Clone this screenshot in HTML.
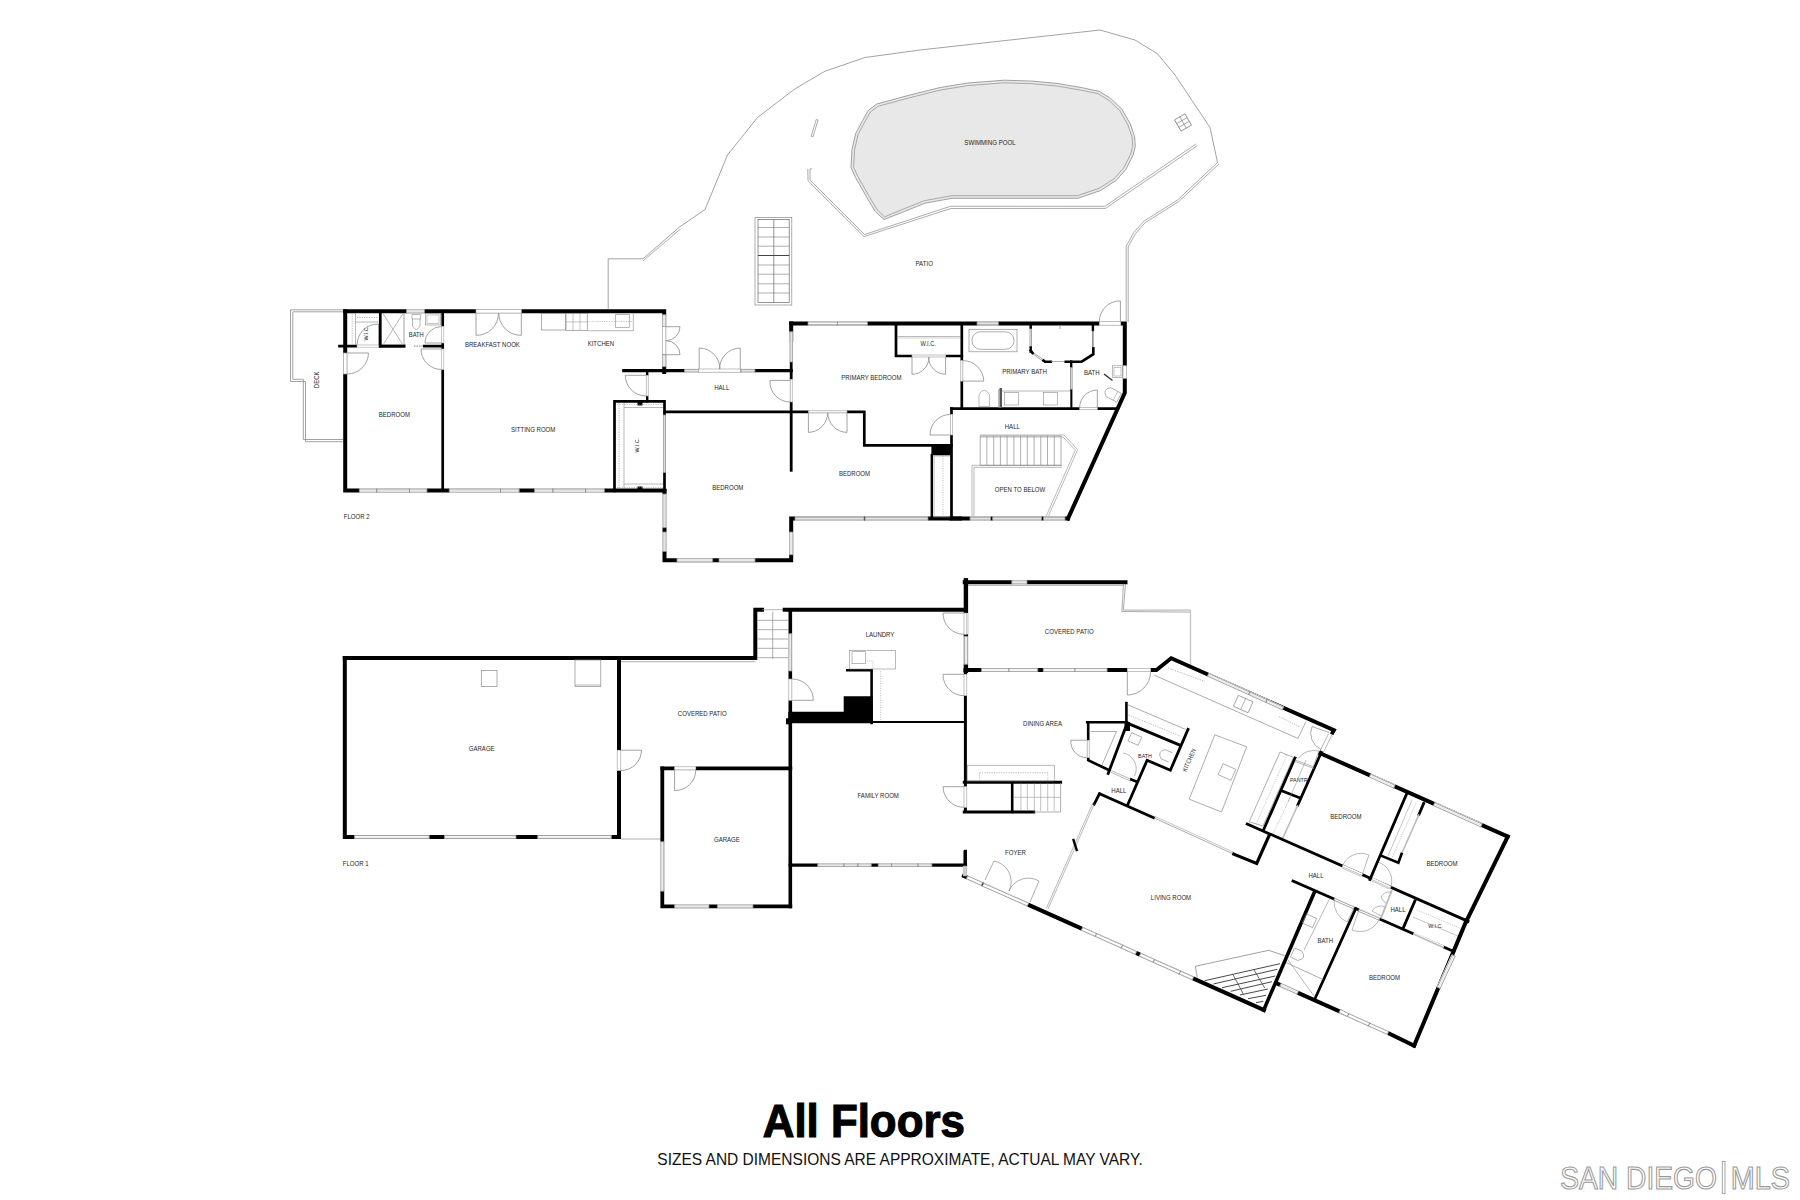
<!DOCTYPE html>
<html><head><meta charset="utf-8"><style>
html,body{margin:0;padding:0;background:#fff;width:1800px;height:1200px;overflow:hidden}
svg{display:block;font-family:"Liberation Sans",sans-serif}
</style></head><body>
<svg width="1800" height="1200" viewBox="0 0 1800 1200">
<rect width="1800" height="1200" fill="#fff"/>
<polyline points="343,309.8 290.5,309.8 290.5,381.5 305.5,381.5 305.5,441.7 343,441.7" fill="none" stroke="#8a8a8a" stroke-width="0.8"/>
<polyline points="343,311.8 292.8,311.8 292.8,379.3 303.3,379.3 303.3,439.5 343,439.5" fill="none" stroke="#8a8a8a" stroke-width="0.8"/>
<text x="0" y="0" transform="translate(316.2 379.8) rotate(-90) scale(0.89 1)" font-size="6.8" text-anchor="middle" dominant-baseline="central" fill="#262626" font-weight="normal">DECK</text>
<polyline points="345.2,311.3 664.2,311.3 664.2,372" fill="none" stroke="#000" stroke-width="4" stroke-linecap="square" stroke-linejoin="miter"/>
<polyline points="345.2,311.3 345.2,490.6 664.4,490.6" fill="none" stroke="#000" stroke-width="4" stroke-linecap="square" stroke-linejoin="miter"/>
<polyline points="442.7,311.3 442.7,490.6" fill="none" stroke="#000" stroke-width="2.7" stroke-linecap="square" stroke-linejoin="miter"/>
<polyline points="339.5,346.1 442.7,346.1" fill="none" stroke="#000" stroke-width="2.7" stroke-linecap="square" stroke-linejoin="miter"/>
<polyline points="380.3,311.3 380.3,346.1" fill="none" stroke="#000" stroke-width="2.7" stroke-linecap="square" stroke-linejoin="miter"/>
<polyline points="404,313 404,345" fill="none" stroke="#8a8a8a" stroke-width="0.8"/>
<polyline points="380.3,346.1 404.8,346.1" fill="none" stroke="#000" stroke-width="2.7" stroke-linecap="square" stroke-linejoin="miter"/>
<line x1="406.5" y1="311.3" x2="424.5" y2="311.3" stroke="#fff" stroke-width="4.8"/>
<line x1="406.5" y1="312.9" x2="424.5" y2="312.9" stroke="#8c8c8c" stroke-width="0.8"/>
<line x1="406.5" y1="309.8" x2="424.5" y2="309.8" stroke="#8c8c8c" stroke-width="0.8"/>
<line x1="406.5" y1="311.3" x2="424.5" y2="311.3" stroke="#c4c4c4" stroke-width="0.5"/>
<line x1="406.5" y1="313.3" x2="406.5" y2="309.3" stroke="#888" stroke-width="0.8"/>
<line x1="424.5" y1="313.3" x2="424.5" y2="309.3" stroke="#888" stroke-width="0.8"/>
<line x1="476" y1="311.3" x2="521.3" y2="311.3" stroke="#fff" stroke-width="5"/>
<rect x="476" y="309.5" width="45.3" height="3.6" fill="#fff" stroke="#999" stroke-width="0.7"/>
<line x1="345.2" y1="353" x2="345.2" y2="374" stroke="#fff" stroke-width="5"/>
<rect x="343.4" y="353" width="3.6" height="21" fill="#fff" stroke="#999" stroke-width="0.7"/>
<path d="M347.2,353 L368.5,353 A21.3,21.3 0 0 1 347.2,374" fill="none" stroke="#8a8a8a" stroke-width="0.8"/>
<line x1="357" y1="346.1" x2="378.5" y2="346.1" stroke="#fff" stroke-width="4"/>
<rect x="357" y="345" width="21.5" height="2.2" fill="#fff" stroke="#aaa" stroke-width="0.6"/>
<path d="M378.5,345 L378.5,324 A21,21 0 0 0 357,345" fill="none" stroke="#8a8a8a" stroke-width="0.8"/>
<polyline points="352.2,313.5 352.2,345" fill="none" stroke="#8a8a8a" stroke-width="0.6" stroke-dasharray="1.2,1.2"/>
<polyline points="355.5,313.5 355.5,345" fill="none" stroke="#8a8a8a" stroke-width="0.6"/>
<polyline points="355.5,322 378.5,322" fill="none" stroke="#8a8a8a" stroke-width="0.6"/>
<polyline points="357,317.5 378.5,317.5" fill="none" stroke="#8a8a8a" stroke-width="0.6" stroke-dasharray="1.2,1.2"/>
<text x="0" y="0" transform="translate(366.3 333.2) rotate(-90) scale(0.89 1)" font-size="6.0" text-anchor="middle" dominant-baseline="central" fill="#262626" font-weight="normal">W.I.C.</text>
<polyline points="383,313.5 403,345" fill="none" stroke="#8a8a8a" stroke-width="0.6"/>
<polyline points="403,313.5 383,345" fill="none" stroke="#8a8a8a" stroke-width="0.6"/>
<line x1="405.5" y1="346.1" x2="423" y2="346.1" stroke="#fff" stroke-width="4"/>
<polyline points="414,346.1 423,346.1" fill="none" stroke="#999" stroke-width="1.2" stroke-dasharray="1.5,1"/>
<line x1="442.7" y1="326.5" x2="442.7" y2="343" stroke="#fff" stroke-width="4"/>
<rect x="441.6" y="326.5" width="2.2" height="16.5" fill="#fff" stroke="#aaa" stroke-width="0.6"/>
<path d="M441.6,343 L425,343 A16.6,16.6 0 0 1 441.6,326.5" fill="none" stroke="#8a8a8a" stroke-width="0.8"/>
<line x1="442.7" y1="349" x2="442.7" y2="369.5" stroke="#fff" stroke-width="4"/>
<rect x="441.6" y="349" width="2.2" height="20.5" fill="#fff" stroke="#aaa" stroke-width="0.6"/>
<path d="M441.5,349 L421,349 A20.5,20.5 0 0 0 441.5,369.5" fill="none" stroke="#8a8a8a" stroke-width="0.8"/>
<polygon points="412,314.5 420.5,314.5 420.5,319 412,319" fill="none" stroke="#8a8a8a" stroke-width="0.6"/>
<path d="M412.5,319 L412.5,326 Q416.3,333 420,326 L420,319" fill="none" stroke="#8a8a8a" stroke-width="0.6"/>
<rect x="425.5" y="313.5" width="15" height="11.5" fill="none" stroke="#8a8a8a" stroke-width="0.6"/>
<rect x="427" y="315" width="12" height="8.5" fill="none" stroke="#8a8a8a" stroke-width="0.5"/>
<text x="0" y="0" transform="translate(416.3 334.3) scale(0.89 1)" font-size="6.5" text-anchor="middle" dominant-baseline="central" fill="#262626" font-weight="normal">BATH</text>
<text x="0" y="0" transform="translate(394.4 414.4) scale(0.89 1)" font-size="6.8" text-anchor="middle" dominant-baseline="central" fill="#262626" font-weight="normal">BEDROOM</text>
<path d="M476,313.3 L476,335.3 A22,22 0 0 0 498.5,313.3" fill="none" stroke="#8a8a8a" stroke-width="0.8"/>
<path d="M521.3,313.3 L521.3,335.3 A22,22 0 0 1 498.8,313.3" fill="none" stroke="#8a8a8a" stroke-width="0.8"/>
<text x="0" y="0" transform="translate(492.4 344.1) scale(0.89 1)" font-size="6.8" text-anchor="middle" dominant-baseline="central" fill="#262626" font-weight="normal">BREAKFAST NOOK</text>
<rect x="541.3" y="313.3" width="24" height="16.7" fill="none" stroke="#8a8a8a" stroke-width="0.7"/>
<rect x="566" y="313.3" width="21.3" height="17.2" fill="none" stroke="#8a8a8a" stroke-width="0.7"/>
<polyline points="573,313.3 573,330.5" fill="none" stroke="#8a8a8a" stroke-width="0.5"/>
<polyline points="580,313.3 580,330.5" fill="none" stroke="#8a8a8a" stroke-width="0.5"/>
<polyline points="566,321.9 587.3,321.9" fill="none" stroke="#8a8a8a" stroke-width="0.5"/>
<polyline points="587.3,330.7 633.3,330.7 633.3,313.3" fill="none" stroke="#8a8a8a" stroke-width="0.6"/>
<polyline points="587.3,321.5 633,321.5" fill="none" stroke="#8a8a8a" stroke-width="0.5" stroke-dasharray="1.2,1.2"/>
<rect x="615.3" y="314.7" width="14" height="12.6" fill="none" stroke="#8a8a8a" stroke-width="0.6"/>
<text x="0" y="0" transform="translate(600.9 343.7) scale(0.89 1)" font-size="6.8" text-anchor="middle" dominant-baseline="central" fill="#262626" font-weight="normal">KITCHEN</text>
<line x1="664.2" y1="314.7" x2="664.2" y2="326.7" stroke="#fff" stroke-width="4.8"/>
<line x1="662.7" y1="314.7" x2="662.7" y2="326.7" stroke="#8c8c8c" stroke-width="0.8"/>
<line x1="665.8" y1="314.7" x2="665.8" y2="326.7" stroke="#8c8c8c" stroke-width="0.8"/>
<line x1="664.2" y1="314.7" x2="664.2" y2="326.7" stroke="#c4c4c4" stroke-width="0.5"/>
<line x1="662.2" y1="314.7" x2="666.2" y2="314.7" stroke="#888" stroke-width="0.8"/>
<line x1="662.2" y1="326.7" x2="666.2" y2="326.7" stroke="#888" stroke-width="0.8"/>
<line x1="664.2" y1="326.7" x2="664.2" y2="354.7" stroke="#fff" stroke-width="5"/>
<rect x="662.6" y="326.7" width="3.2" height="28" fill="#fff" stroke="#999" stroke-width="0.6"/>
<line x1="664.2" y1="354.7" x2="664.2" y2="366.7" stroke="#fff" stroke-width="4.8"/>
<line x1="662.7" y1="354.7" x2="662.7" y2="366.7" stroke="#8c8c8c" stroke-width="0.8"/>
<line x1="665.8" y1="354.7" x2="665.8" y2="366.7" stroke="#8c8c8c" stroke-width="0.8"/>
<line x1="664.2" y1="354.7" x2="664.2" y2="366.7" stroke="#c4c4c4" stroke-width="0.5"/>
<line x1="662.2" y1="354.7" x2="666.2" y2="354.7" stroke="#888" stroke-width="0.8"/>
<line x1="662.2" y1="366.7" x2="666.2" y2="366.7" stroke="#888" stroke-width="0.8"/>
<path d="M666,326.7 L680,326.7 A14,14 0 0 1 666,340.7" fill="none" stroke="#8a8a8a" stroke-width="0.8"/>
<path d="M666,354.7 L680,354.7 A14,14 0 0 0 666,340.7" fill="none" stroke="#8a8a8a" stroke-width="0.8"/>
<text x="0" y="0" transform="translate(533.2 429.6) scale(0.89 1)" font-size="6.8" text-anchor="middle" dominant-baseline="central" fill="#262626" font-weight="normal">SITTING ROOM</text>
<line x1="359.3" y1="490.6" x2="376.8" y2="490.6" stroke="#fff" stroke-width="4.8"/>
<line x1="359.3" y1="492.2" x2="376.8" y2="492.2" stroke="#8c8c8c" stroke-width="0.8"/>
<line x1="359.3" y1="489.1" x2="376.8" y2="489.1" stroke="#8c8c8c" stroke-width="0.8"/>
<line x1="359.3" y1="490.6" x2="376.8" y2="490.6" stroke="#c4c4c4" stroke-width="0.5"/>
<line x1="359.3" y1="492.6" x2="359.3" y2="488.6" stroke="#888" stroke-width="0.8"/>
<line x1="376.8" y1="492.6" x2="376.8" y2="488.6" stroke="#888" stroke-width="0.8"/>
<line x1="376.8" y1="490.6" x2="409.5" y2="490.6" stroke="#fff" stroke-width="4.8"/>
<line x1="376.8" y1="492.2" x2="409.5" y2="492.2" stroke="#8c8c8c" stroke-width="0.8"/>
<line x1="376.8" y1="489.1" x2="409.5" y2="489.1" stroke="#8c8c8c" stroke-width="0.8"/>
<line x1="376.8" y1="490.6" x2="409.5" y2="490.6" stroke="#c4c4c4" stroke-width="0.5"/>
<line x1="376.8" y1="492.6" x2="376.8" y2="488.6" stroke="#888" stroke-width="0.8"/>
<line x1="409.5" y1="492.6" x2="409.5" y2="488.6" stroke="#888" stroke-width="0.8"/>
<line x1="409.5" y1="490.6" x2="427" y2="490.6" stroke="#fff" stroke-width="4.8"/>
<line x1="409.5" y1="492.2" x2="427" y2="492.2" stroke="#8c8c8c" stroke-width="0.8"/>
<line x1="409.5" y1="489.1" x2="427" y2="489.1" stroke="#8c8c8c" stroke-width="0.8"/>
<line x1="409.5" y1="490.6" x2="427" y2="490.6" stroke="#c4c4c4" stroke-width="0.5"/>
<line x1="409.5" y1="492.6" x2="409.5" y2="488.6" stroke="#888" stroke-width="0.8"/>
<line x1="427" y1="492.6" x2="427" y2="488.6" stroke="#888" stroke-width="0.8"/>
<line x1="449.2" y1="490.6" x2="500.5" y2="490.6" stroke="#fff" stroke-width="4.8"/>
<line x1="449.2" y1="492.2" x2="500.5" y2="492.2" stroke="#8c8c8c" stroke-width="0.8"/>
<line x1="449.2" y1="489.1" x2="500.5" y2="489.1" stroke="#8c8c8c" stroke-width="0.8"/>
<line x1="449.2" y1="490.6" x2="500.5" y2="490.6" stroke="#c4c4c4" stroke-width="0.5"/>
<line x1="449.2" y1="492.6" x2="449.2" y2="488.6" stroke="#888" stroke-width="0.8"/>
<line x1="500.5" y1="492.6" x2="500.5" y2="488.6" stroke="#888" stroke-width="0.8"/>
<line x1="500.5" y1="490.6" x2="519.2" y2="490.6" stroke="#fff" stroke-width="4.8"/>
<line x1="500.5" y1="492.2" x2="519.2" y2="492.2" stroke="#8c8c8c" stroke-width="0.8"/>
<line x1="500.5" y1="489.1" x2="519.2" y2="489.1" stroke="#8c8c8c" stroke-width="0.8"/>
<line x1="500.5" y1="490.6" x2="519.2" y2="490.6" stroke="#c4c4c4" stroke-width="0.5"/>
<line x1="500.5" y1="492.6" x2="500.5" y2="488.6" stroke="#888" stroke-width="0.8"/>
<line x1="519.2" y1="492.6" x2="519.2" y2="488.6" stroke="#888" stroke-width="0.8"/>
<line x1="534.4" y1="490.6" x2="553" y2="490.6" stroke="#fff" stroke-width="4.8"/>
<line x1="534.4" y1="492.2" x2="553" y2="492.2" stroke="#8c8c8c" stroke-width="0.8"/>
<line x1="534.4" y1="489.1" x2="553" y2="489.1" stroke="#8c8c8c" stroke-width="0.8"/>
<line x1="534.4" y1="490.6" x2="553" y2="490.6" stroke="#c4c4c4" stroke-width="0.5"/>
<line x1="534.4" y1="492.6" x2="534.4" y2="488.6" stroke="#888" stroke-width="0.8"/>
<line x1="553" y1="492.6" x2="553" y2="488.6" stroke="#888" stroke-width="0.8"/>
<line x1="553" y1="490.6" x2="585.7" y2="490.6" stroke="#fff" stroke-width="4.8"/>
<line x1="553" y1="492.2" x2="585.7" y2="492.2" stroke="#8c8c8c" stroke-width="0.8"/>
<line x1="553" y1="489.1" x2="585.7" y2="489.1" stroke="#8c8c8c" stroke-width="0.8"/>
<line x1="553" y1="490.6" x2="585.7" y2="490.6" stroke="#c4c4c4" stroke-width="0.5"/>
<line x1="553" y1="492.6" x2="553" y2="488.6" stroke="#888" stroke-width="0.8"/>
<line x1="585.7" y1="492.6" x2="585.7" y2="488.6" stroke="#888" stroke-width="0.8"/>
<line x1="585.7" y1="490.6" x2="604.4" y2="490.6" stroke="#fff" stroke-width="4.8"/>
<line x1="585.7" y1="492.2" x2="604.4" y2="492.2" stroke="#8c8c8c" stroke-width="0.8"/>
<line x1="585.7" y1="489.1" x2="604.4" y2="489.1" stroke="#8c8c8c" stroke-width="0.8"/>
<line x1="585.7" y1="490.6" x2="604.4" y2="490.6" stroke="#c4c4c4" stroke-width="0.5"/>
<line x1="585.7" y1="492.6" x2="585.7" y2="488.6" stroke="#888" stroke-width="0.8"/>
<line x1="604.4" y1="492.6" x2="604.4" y2="488.6" stroke="#888" stroke-width="0.8"/>
<polyline points="623.8,370.6 791.2,370.6" fill="none" stroke="#000" stroke-width="3.2" stroke-linecap="square" stroke-linejoin="miter"/>
<line x1="684.5" y1="370.6" x2="698.6" y2="370.6" stroke="#fff" stroke-width="4.2"/>
<line x1="684.5" y1="371.9" x2="698.6" y2="371.9" stroke="#8c8c8c" stroke-width="0.8"/>
<line x1="684.5" y1="369.4" x2="698.6" y2="369.4" stroke="#8c8c8c" stroke-width="0.8"/>
<line x1="684.5" y1="370.6" x2="698.6" y2="370.6" stroke="#c4c4c4" stroke-width="0.5"/>
<line x1="684.5" y1="372.3" x2="684.5" y2="368.9" stroke="#888" stroke-width="0.8"/>
<line x1="698.6" y1="372.3" x2="698.6" y2="368.9" stroke="#888" stroke-width="0.8"/>
<line x1="698.6" y1="370.6" x2="740.8" y2="370.6" stroke="#fff" stroke-width="4.5"/>
<rect x="698.6" y="369" width="42.2" height="3.2" fill="#fff" stroke="#999" stroke-width="0.6"/>
<line x1="740.8" y1="370.6" x2="754.9" y2="370.6" stroke="#fff" stroke-width="4.2"/>
<line x1="740.8" y1="371.9" x2="754.9" y2="371.9" stroke="#8c8c8c" stroke-width="0.8"/>
<line x1="740.8" y1="369.4" x2="754.9" y2="369.4" stroke="#8c8c8c" stroke-width="0.8"/>
<line x1="740.8" y1="370.6" x2="754.9" y2="370.6" stroke="#c4c4c4" stroke-width="0.5"/>
<line x1="740.8" y1="372.3" x2="740.8" y2="368.9" stroke="#888" stroke-width="0.8"/>
<line x1="754.9" y1="372.3" x2="754.9" y2="368.9" stroke="#888" stroke-width="0.8"/>
<path d="M699.2,369 L699.2,348 A21,21 0 0 1 720,369" fill="none" stroke="#8a8a8a" stroke-width="0.8"/>
<path d="M740.3,369 L740.3,348 A21,21 0 0 0 719.5,369" fill="none" stroke="#8a8a8a" stroke-width="0.8"/>
<polyline points="647.2,370.6 647.2,401.3" fill="none" stroke="#000" stroke-width="2.4" stroke-linecap="square" stroke-linejoin="miter"/>
<line x1="647.2" y1="375.3" x2="647.2" y2="396" stroke="#fff" stroke-width="4"/>
<rect x="646.2" y="375.3" width="2" height="20.7" fill="#fff" stroke="#999" stroke-width="0.6"/>
<path d="M646,375.3 L625.3,375.3 A20.7,20.7 0 0 0 646,396" fill="none" stroke="#8a8a8a" stroke-width="0.8"/>
<text x="0" y="0" transform="translate(721.7 387.3) scale(0.89 1)" font-size="6.8" text-anchor="middle" dominant-baseline="central" fill="#262626" font-weight="normal">HALL</text>
<polyline points="614.5,491 614.5,401.3 664.5,401.3 664.5,491" fill="none" stroke="#000" stroke-width="2.7" stroke-linecap="square" stroke-linejoin="miter"/>
<line x1="664.5" y1="415" x2="664.5" y2="472.5" stroke="#fff" stroke-width="3.5"/>
<line x1="663.6" y1="415" x2="663.6" y2="472.5" stroke="#8c8c8c" stroke-width="0.8"/>
<line x1="665.4" y1="415" x2="665.4" y2="472.5" stroke="#8c8c8c" stroke-width="0.8"/>
<line x1="664.5" y1="415" x2="664.5" y2="472.5" stroke="#c4c4c4" stroke-width="0.5"/>
<line x1="663.1" y1="415" x2="665.9" y2="415" stroke="#888" stroke-width="0.8"/>
<line x1="663.1" y1="472.5" x2="665.9" y2="472.5" stroke="#888" stroke-width="0.8"/>
<rect x="637.5" y="401.3" width="5" height="4.2" fill="#000" stroke="none" stroke-width="0.8"/>
<rect x="637.5" y="486.5" width="5" height="4.1" fill="#000" stroke="none" stroke-width="0.8"/>
<polyline points="619,403 619,489" fill="none" stroke="#8a8a8a" stroke-width="0.6" stroke-dasharray="1.2,1.2"/>
<polyline points="624,403 624,489" fill="none" stroke="#8a8a8a" stroke-width="0.6"/>
<polyline points="624,407.5 663,407.5" fill="none" stroke="#8a8a8a" stroke-width="0.6"/>
<polyline points="624,484 663,484" fill="none" stroke="#8a8a8a" stroke-width="0.6"/>
<polyline points="617,404.5 663,404.5" fill="none" stroke="#8a8a8a" stroke-width="0.5" stroke-dasharray="1.2,1.2"/>
<polyline points="617,487.5 663,487.5" fill="none" stroke="#8a8a8a" stroke-width="0.5" stroke-dasharray="1.2,1.2"/>
<text x="0" y="0" transform="translate(637 445.2) rotate(-90) scale(0.89 1)" font-size="6.0" text-anchor="middle" dominant-baseline="central" fill="#262626" font-weight="normal">W.I.C.</text>
<text x="0" y="0" transform="translate(343.7 516.4) scale(0.89 1)" font-size="6.8" text-anchor="start" dominant-baseline="central" fill="#262626" font-weight="normal">FLOOR 2</text>
<polyline points="664.5,491 664.5,560.2 791.2,560.2 791.2,518.6 960,518.6" fill="none" stroke="#000" stroke-width="4" stroke-linecap="square" stroke-linejoin="miter"/>
<line x1="664.5" y1="494" x2="664.5" y2="527.7" stroke="#fff" stroke-width="4.8"/>
<line x1="663" y1="494" x2="663" y2="527.7" stroke="#8c8c8c" stroke-width="0.8"/>
<line x1="666" y1="494" x2="666" y2="527.7" stroke="#8c8c8c" stroke-width="0.8"/>
<line x1="664.5" y1="494" x2="664.5" y2="527.7" stroke="#c4c4c4" stroke-width="0.5"/>
<line x1="662.5" y1="494" x2="666.5" y2="494" stroke="#888" stroke-width="0.8"/>
<line x1="662.5" y1="527.7" x2="666.5" y2="527.7" stroke="#888" stroke-width="0.8"/>
<line x1="664.5" y1="532" x2="664.5" y2="551.5" stroke="#fff" stroke-width="4.8"/>
<line x1="663" y1="532" x2="663" y2="551.5" stroke="#8c8c8c" stroke-width="0.8"/>
<line x1="666" y1="532" x2="666" y2="551.5" stroke="#8c8c8c" stroke-width="0.8"/>
<line x1="664.5" y1="532" x2="664.5" y2="551.5" stroke="#c4c4c4" stroke-width="0.5"/>
<line x1="662.5" y1="532" x2="666.5" y2="532" stroke="#888" stroke-width="0.8"/>
<line x1="662.5" y1="551.5" x2="666.5" y2="551.5" stroke="#888" stroke-width="0.8"/>
<line x1="677" y1="560.2" x2="712.6" y2="560.2" stroke="#fff" stroke-width="4.8"/>
<line x1="677" y1="561.8" x2="712.6" y2="561.8" stroke="#8c8c8c" stroke-width="0.8"/>
<line x1="677" y1="558.7" x2="712.6" y2="558.7" stroke="#8c8c8c" stroke-width="0.8"/>
<line x1="677" y1="560.2" x2="712.6" y2="560.2" stroke="#c4c4c4" stroke-width="0.5"/>
<line x1="677" y1="562.2" x2="677" y2="558.2" stroke="#888" stroke-width="0.8"/>
<line x1="712.6" y1="562.2" x2="712.6" y2="558.2" stroke="#888" stroke-width="0.8"/>
<line x1="719" y1="560.2" x2="755" y2="560.2" stroke="#fff" stroke-width="4.8"/>
<line x1="719" y1="561.8" x2="755" y2="561.8" stroke="#8c8c8c" stroke-width="0.8"/>
<line x1="719" y1="558.7" x2="755" y2="558.7" stroke="#8c8c8c" stroke-width="0.8"/>
<line x1="719" y1="560.2" x2="755" y2="560.2" stroke="#c4c4c4" stroke-width="0.5"/>
<line x1="719" y1="562.2" x2="719" y2="558.2" stroke="#888" stroke-width="0.8"/>
<line x1="755" y1="562.2" x2="755" y2="558.2" stroke="#888" stroke-width="0.8"/>
<line x1="791.2" y1="532" x2="791.2" y2="554.8" stroke="#fff" stroke-width="4.8"/>
<line x1="789.7" y1="532" x2="789.7" y2="554.8" stroke="#8c8c8c" stroke-width="0.8"/>
<line x1="792.8" y1="532" x2="792.8" y2="554.8" stroke="#8c8c8c" stroke-width="0.8"/>
<line x1="791.2" y1="532" x2="791.2" y2="554.8" stroke="#c4c4c4" stroke-width="0.5"/>
<line x1="789.2" y1="532" x2="793.2" y2="532" stroke="#888" stroke-width="0.8"/>
<line x1="789.2" y1="554.8" x2="793.2" y2="554.8" stroke="#888" stroke-width="0.8"/>
<line x1="795" y1="518.6" x2="864" y2="518.6" stroke="#fff" stroke-width="4.3"/>
<line x1="795" y1="519.9" x2="864" y2="519.9" stroke="#8c8c8c" stroke-width="0.8"/>
<line x1="795" y1="517.3" x2="864" y2="517.3" stroke="#8c8c8c" stroke-width="0.8"/>
<line x1="795" y1="518.6" x2="864" y2="518.6" stroke="#c4c4c4" stroke-width="0.5"/>
<line x1="795" y1="520.4" x2="795" y2="516.9" stroke="#888" stroke-width="0.8"/>
<line x1="864" y1="520.4" x2="864" y2="516.9" stroke="#888" stroke-width="0.8"/>
<line x1="865" y1="518.6" x2="928" y2="518.6" stroke="#fff" stroke-width="4.3"/>
<line x1="865" y1="519.9" x2="928" y2="519.9" stroke="#8c8c8c" stroke-width="0.8"/>
<line x1="865" y1="517.3" x2="928" y2="517.3" stroke="#8c8c8c" stroke-width="0.8"/>
<line x1="865" y1="518.6" x2="928" y2="518.6" stroke="#c4c4c4" stroke-width="0.5"/>
<line x1="865" y1="520.4" x2="865" y2="516.9" stroke="#888" stroke-width="0.8"/>
<line x1="928" y1="520.4" x2="928" y2="516.9" stroke="#888" stroke-width="0.8"/>
<text x="0" y="0" transform="translate(727.8 487) scale(0.89 1)" font-size="6.8" text-anchor="middle" dominant-baseline="central" fill="#262626" font-weight="normal">BEDROOM</text>
<polyline points="665,411.8 864.3,411.8 864.3,445.4 951.5,445.4" fill="none" stroke="#000" stroke-width="2.7" stroke-linecap="square" stroke-linejoin="miter"/>
<line x1="808.4" y1="411.8" x2="847" y2="411.8" stroke="#fff" stroke-width="4"/>
<rect x="808.4" y="410.8" width="38.6" height="2" fill="#fff" stroke="#999" stroke-width="0.6"/>
<path d="M808.4,412.8 L808.4,432.4 A19.6,19.6 0 0 0 827.6,412.8" fill="none" stroke="#8a8a8a" stroke-width="0.8"/>
<path d="M847,412.8 L847,432.4 A19.6,19.6 0 0 1 827.8,412.8" fill="none" stroke="#8a8a8a" stroke-width="0.8"/>
<text x="0" y="0" transform="translate(854.5 472.9) scale(0.89 1)" font-size="6.8" text-anchor="middle" dominant-baseline="central" fill="#262626" font-weight="normal">BEDROOM</text>
<polyline points="791.2,323.4 791.2,470.3" fill="none" stroke="#000" stroke-width="2.8" stroke-linecap="square" stroke-linejoin="miter"/>
<polyline points="791.2,323.4 791.2,340" fill="none" stroke="#000" stroke-width="4" stroke-linecap="square" stroke-linejoin="miter"/>
<line x1="791.2" y1="331.7" x2="791.2" y2="362" stroke="#fff" stroke-width="4"/>
<line x1="790.1" y1="331.7" x2="790.1" y2="362" stroke="#8c8c8c" stroke-width="0.8"/>
<line x1="792.4" y1="331.7" x2="792.4" y2="362" stroke="#8c8c8c" stroke-width="0.8"/>
<line x1="791.2" y1="331.7" x2="791.2" y2="362" stroke="#c4c4c4" stroke-width="0.5"/>
<line x1="789.6" y1="331.7" x2="792.8" y2="331.7" stroke="#888" stroke-width="0.8"/>
<line x1="789.6" y1="362" x2="792.8" y2="362" stroke="#888" stroke-width="0.8"/>
<line x1="791.2" y1="379.3" x2="791.2" y2="402" stroke="#fff" stroke-width="4"/>
<rect x="790.2" y="379.3" width="2" height="22.7" fill="#fff" stroke="#999" stroke-width="0.6"/>
<path d="M790.2,380.4 L770,380.4 A20.2,20.2 0 0 0 790.2,402" fill="none" stroke="#8a8a8a" stroke-width="0.8"/>
<polyline points="791.2,323.4 1124.8,323.4 1124.8,392.9 1068,518.6" fill="none" stroke="#000" stroke-width="4" stroke-linecap="square" stroke-linejoin="miter"/>
<polyline points="951.5,518.6 1068,518.6" fill="none" stroke="#000" stroke-width="4" stroke-linecap="square" stroke-linejoin="miter"/>
<line x1="808" y1="323.4" x2="837.5" y2="323.4" stroke="#fff" stroke-width="4.3"/>
<line x1="808" y1="324.7" x2="837.5" y2="324.7" stroke="#8c8c8c" stroke-width="0.8"/>
<line x1="808" y1="322.1" x2="837.5" y2="322.1" stroke="#8c8c8c" stroke-width="0.8"/>
<line x1="808" y1="325.1" x2="808" y2="321.6" stroke="#888" stroke-width="0.8"/>
<line x1="837.5" y1="325.1" x2="837.5" y2="321.6" stroke="#888" stroke-width="0.8"/>
<line x1="837.5" y1="323.4" x2="867.5" y2="323.4" stroke="#fff" stroke-width="4.3"/>
<line x1="837.5" y1="324.7" x2="867.5" y2="324.7" stroke="#8c8c8c" stroke-width="0.8"/>
<line x1="837.5" y1="322.1" x2="867.5" y2="322.1" stroke="#8c8c8c" stroke-width="0.8"/>
<line x1="837.5" y1="325.1" x2="837.5" y2="321.6" stroke="#888" stroke-width="0.8"/>
<line x1="867.5" y1="325.1" x2="867.5" y2="321.6" stroke="#888" stroke-width="0.8"/>
<line x1="977" y1="323.4" x2="998.4" y2="323.4" stroke="#fff" stroke-width="4.3"/>
<line x1="977" y1="324.7" x2="998.4" y2="324.7" stroke="#8c8c8c" stroke-width="0.8"/>
<line x1="977" y1="322.1" x2="998.4" y2="322.1" stroke="#8c8c8c" stroke-width="0.8"/>
<line x1="977" y1="323.4" x2="998.4" y2="323.4" stroke="#c4c4c4" stroke-width="0.5"/>
<line x1="977" y1="325.1" x2="977" y2="321.6" stroke="#888" stroke-width="0.8"/>
<line x1="998.4" y1="325.1" x2="998.4" y2="321.6" stroke="#888" stroke-width="0.8"/>
<line x1="1099.3" y1="323.4" x2="1120.8" y2="323.4" stroke="#fff" stroke-width="5"/>
<rect x="1099.3" y="321.6" width="21.5" height="3.6" fill="#fff" stroke="#999" stroke-width="0.6"/>
<path d="M1120.4,321.6 L1120.4,300.9 A20.7,20.7 0 0 0 1099.3,321.6" fill="none" stroke="#8a8a8a" stroke-width="0.8"/>
<rect x="931.4" y="445.4" width="20.1" height="9.9" fill="#000" stroke="none" stroke-width="0.8"/>
<polyline points="931.8,455 931.8,518.6" fill="none" stroke="#000" stroke-width="2.4" stroke-linecap="square" stroke-linejoin="miter"/>
<rect x="934" y="456" width="17" height="61" fill="none" stroke="#8a8a8a" stroke-width="0.6"/>
<polyline points="943,456 943,517" fill="none" stroke="#8a8a8a" stroke-width="0.5" stroke-dasharray="1.2,1.2"/>
<polyline points="896,323.4 896,356 961.8,356" fill="none" stroke="#000" stroke-width="2.7" stroke-linecap="square" stroke-linejoin="miter"/>
<line x1="912" y1="356" x2="945.6" y2="356" stroke="#fff" stroke-width="4"/>
<rect x="912" y="355" width="33.6" height="2" fill="#fff" stroke="#999" stroke-width="0.6"/>
<path d="M912,357 L912,374.3 A17.3,17.3 0 0 0 929,357" fill="none" stroke="#8a8a8a" stroke-width="0.8"/>
<path d="M945.6,357 L945.6,374.3 A17.3,17.3 0 0 1 928.6,357" fill="none" stroke="#8a8a8a" stroke-width="0.8"/>
<polyline points="897.5,336.5 960.5,336.5" fill="none" stroke="#8a8a8a" stroke-width="0.6"/>
<polyline points="897.5,338 960.5,338" fill="none" stroke="#8a8a8a" stroke-width="0.4"/>
<text x="0" y="0" transform="translate(928.2 343.6) scale(0.89 1)" font-size="6.3" text-anchor="middle" dominant-baseline="central" fill="#262626" font-weight="normal">W.I.C.</text>
<text x="0" y="0" transform="translate(871.4 377.4) scale(0.89 1)" font-size="6.8" text-anchor="middle" dominant-baseline="central" fill="#262626" font-weight="normal">PRIMARY BEDROOM</text>
<polyline points="961.8,323.4 961.8,408.6" fill="none" stroke="#000" stroke-width="2.7" stroke-linecap="square" stroke-linejoin="miter"/>
<line x1="961.8" y1="360.6" x2="961.8" y2="381.1" stroke="#fff" stroke-width="4"/>
<rect x="960.8" y="360.6" width="2" height="20.5" fill="#fff" stroke="#999" stroke-width="0.6"/>
<path d="M962.8,381.1 L983.8,381.1 A21,21 0 0 0 962.8,360.6" fill="none" stroke="#8a8a8a" stroke-width="0.8"/>
<polyline points="951.5,408.6 1116,408.6" fill="none" stroke="#000" stroke-width="2.7" stroke-linecap="square" stroke-linejoin="miter"/>
<polyline points="951.5,408.6 951.5,518.6" fill="none" stroke="#000" stroke-width="2.7" stroke-linecap="square" stroke-linejoin="miter"/>
<line x1="951.5" y1="414.4" x2="951.5" y2="435" stroke="#fff" stroke-width="4"/>
<rect x="950.5" y="414.4" width="2" height="20.6" fill="#fff" stroke="#999" stroke-width="0.6"/>
<path d="M950.5,435 L930,435 A20.5,20.5 0 0 1 950.5,414.4" fill="none" stroke="#8a8a8a" stroke-width="0.8"/>
<polyline points="1071.2,361.6 1071.2,408.6" fill="none" stroke="#000" stroke-width="2.4" stroke-linecap="square" stroke-linejoin="miter"/>
<line x1="1071.2" y1="367.5" x2="1071.2" y2="389.2" stroke="#fff" stroke-width="3.2"/>
<line x1="1070.5" y1="367.5" x2="1070.5" y2="389.2" stroke="#8c8c8c" stroke-width="0.8"/>
<line x1="1072" y1="367.5" x2="1072" y2="389.2" stroke="#8c8c8c" stroke-width="0.8"/>
<line x1="1070" y1="367.5" x2="1072.5" y2="367.5" stroke="#888" stroke-width="0.8"/>
<line x1="1070" y1="389.2" x2="1072.5" y2="389.2" stroke="#888" stroke-width="0.8"/>
<line x1="1079.7" y1="408.6" x2="1097.3" y2="408.6" stroke="#fff" stroke-width="4"/>
<rect x="1079.7" y="407.6" width="17.6" height="2" fill="#fff" stroke="#999" stroke-width="0.6"/>
<path d="M1097.3,407.6 L1097.3,390 A17.6,17.6 0 0 0 1079.7,407.6" fill="none" stroke="#8a8a8a" stroke-width="0.8"/>
<line x1="1030.7" y1="327.5" x2="1030.7" y2="347.5" stroke="#fff" stroke-width="3.2"/>
<line x1="1030" y1="327.5" x2="1030" y2="347.5" stroke="#8c8c8c" stroke-width="0.8"/>
<line x1="1031.5" y1="327.5" x2="1031.5" y2="347.5" stroke="#8c8c8c" stroke-width="0.8"/>
<line x1="1029.5" y1="327.5" x2="1031.9" y2="327.5" stroke="#888" stroke-width="0.8"/>
<line x1="1029.5" y1="347.5" x2="1031.9" y2="347.5" stroke="#888" stroke-width="0.8"/>
<polyline points="1030.7,323.8 1030.7,327.5" fill="none" stroke="#000" stroke-width="2.4" stroke-linecap="square" stroke-linejoin="miter"/>
<polyline points="1030.7,347.5 1030.7,351.7" fill="none" stroke="#000" stroke-width="2.4" stroke-linecap="square" stroke-linejoin="miter"/>
<line x1="1032.5" y1="353" x2="1043.5" y2="360.5" stroke="#fff" stroke-width="3.2"/>
<line x1="1032.1" y1="353.6" x2="1043.1" y2="361.1" stroke="#8c8c8c" stroke-width="0.8"/>
<line x1="1032.9" y1="352.4" x2="1043.9" y2="359.9" stroke="#8c8c8c" stroke-width="0.8"/>
<line x1="1031.8" y1="354" x2="1033.2" y2="352" stroke="#888" stroke-width="0.8"/>
<line x1="1042.8" y1="361.5" x2="1044.2" y2="359.5" stroke="#888" stroke-width="0.8"/>
<polyline points="1030.7,350.5 1032.5,353" fill="none" stroke="#000" stroke-width="2.6" stroke-linecap="square" stroke-linejoin="miter"/>
<polyline points="1043.5,360.5 1045,361.7 1050.8,361.7" fill="none" stroke="#000" stroke-width="2.6" stroke-linecap="square" stroke-linejoin="miter"/>
<polyline points="1050.8,361.5 1065.8,361.5" fill="none" stroke="#777" stroke-width="0.6"/>
<polyline points="1065.8,361.7 1081.7,361.7 1093.3,354.2 1093.3,348.3" fill="none" stroke="#000" stroke-width="2.6" stroke-linecap="square" stroke-linejoin="miter"/>
<polyline points="1092.9,323.8 1092.9,330" fill="none" stroke="#000" stroke-width="2.4" stroke-linecap="square" stroke-linejoin="miter"/>
<polyline points="1092.9,330 1092.9,348.3" fill="none" stroke="#333" stroke-width="0.9"/>
<polyline points="1058,325.5 1062,325.5" fill="none" stroke="#888" stroke-width="1"/>
<polyline points="1060,326 1060,329" fill="none" stroke="#888" stroke-width="0.8"/>
<rect x="969" y="329.3" width="48" height="22.5" fill="none" stroke="#8a8a8a" stroke-width="0.7"/>
<rect x="972" y="331.8" width="42" height="17.5" rx="8.5" ry="8.5" fill="none" stroke="#8a8a8a" stroke-width="0.7"/>
<path d="M979,406.6 L979,395 Q984.2,385 989.6,395 L989.6,406.6 Z" fill="none" stroke="#8a8a8a" stroke-width="0.6"/>
<rect x="998.6" y="390" width="2.9" height="17.6" fill="none" stroke="#8a8a8a" stroke-width="0.6"/>
<polyline points="1001.5,391 1070.5,391 1070.5,407.5" fill="none" stroke="#8a8a8a" stroke-width="0.6"/>
<rect x="1004.5" y="392.5" width="14" height="12.5" fill="none" stroke="#8a8a8a" stroke-width="0.6"/>
<rect x="1043.3" y="392.5" width="14.2" height="12.5" fill="none" stroke="#8a8a8a" stroke-width="0.6"/>
<rect x="999.5" y="388" width="2.5" height="19" fill="#555" stroke="none" stroke-width="0.8"/>
<text x="0" y="0" transform="translate(1024.5 371.7) scale(0.89 1)" font-size="6.8" text-anchor="middle" dominant-baseline="central" fill="#262626" font-weight="normal">PRIMARY BATH</text>
<line x1="1124.8" y1="365.8" x2="1124.8" y2="378.3" stroke="#fff" stroke-width="4.6"/>
<rect x="1123" y="365.8" width="3.6" height="12.5" fill="#fff" stroke="#999" stroke-width="0.6"/>
<rect x="1112.5" y="365.8" width="10" height="11.7" fill="none" stroke="#8a8a8a" stroke-width="0.6"/>
<rect x="1114" y="367.5" width="7" height="8.5" fill="none" stroke="#8a8a8a" stroke-width="0.5"/>
<polyline points="1104,374 1112.5,380.5" fill="none" stroke="#333" stroke-width="1.5"/>
<g transform="rotate(28 1112 394)"><path d="M1120,389 L1108,389 Q1101,394 1108,399 L1120,399 Z" fill="none" stroke="#8a8a8a" stroke-width="0.6"/><line x1="1116" y1="389" x2="1116" y2="399" stroke="#8a8a8a" stroke-width="0.5"/></g>
<text x="0" y="0" transform="translate(1091.8 372.3) scale(0.89 1)" font-size="6.8" text-anchor="middle" dominant-baseline="central" fill="#262626" font-weight="normal">BATH</text>
<polyline points="980.2,436 980.2,465.3" fill="none" stroke="#777" stroke-width="0.6"/>
<polyline points="986.9,436 986.9,465.3" fill="none" stroke="#777" stroke-width="0.6"/>
<polyline points="993.7,436 993.7,465.3" fill="none" stroke="#777" stroke-width="0.6"/>
<polyline points="1000.4,436 1000.4,465.3" fill="none" stroke="#777" stroke-width="0.6"/>
<polyline points="1007.1,436 1007.1,465.3" fill="none" stroke="#777" stroke-width="0.6"/>
<polyline points="1013.9,436 1013.9,465.3" fill="none" stroke="#777" stroke-width="0.6"/>
<polyline points="1020.6,436 1020.6,465.3" fill="none" stroke="#777" stroke-width="0.6"/>
<polyline points="1027.3,436 1027.3,465.3" fill="none" stroke="#777" stroke-width="0.6"/>
<polyline points="1034.1,436 1034.1,465.3" fill="none" stroke="#777" stroke-width="0.6"/>
<polyline points="1040.8,436 1040.8,465.3" fill="none" stroke="#777" stroke-width="0.6"/>
<polyline points="1047.5,436 1047.5,465.3" fill="none" stroke="#777" stroke-width="0.6"/>
<polyline points="1054.3,436 1054.3,465.3" fill="none" stroke="#777" stroke-width="0.6"/>
<polyline points="1061,436 1061,465.3" fill="none" stroke="#777" stroke-width="0.6"/>
<polyline points="980.2,436 1061,436" fill="none" stroke="#777" stroke-width="0.6"/>
<polyline points="980.2,465.3 1061,465.3" fill="none" stroke="#777" stroke-width="0.6"/>
<polyline points="972,516.2 972,465.3 1062,465.3" fill="none" stroke="#8a8a8a" stroke-width="0.6"/>
<polyline points="974,516.2 974,467.3 1062,467.3" fill="none" stroke="#8a8a8a" stroke-width="0.6"/>
<polyline points="980,435 1064,435 1077.7,449.7 1048.4,516.2" fill="none" stroke="#8a8a8a" stroke-width="0.6"/>
<polyline points="980,437 1063,437 1075.3,450 1046.2,516.2" fill="none" stroke="#8a8a8a" stroke-width="0.6"/>
<text x="0" y="0" transform="translate(1012.3 426.2) scale(0.89 1)" font-size="6.8" text-anchor="middle" dominant-baseline="central" fill="#262626" font-weight="normal">HALL</text>
<text x="0" y="0" transform="translate(1020 489.8) scale(0.89 1)" font-size="6.8" text-anchor="middle" dominant-baseline="central" fill="#262626" font-weight="normal">OPEN TO BELOW</text>
<line x1="970" y1="518.6" x2="990.6" y2="518.6" stroke="#fff" stroke-width="4.3"/>
<line x1="970" y1="519.9" x2="990.6" y2="519.9" stroke="#8c8c8c" stroke-width="0.8"/>
<line x1="970" y1="517.3" x2="990.6" y2="517.3" stroke="#8c8c8c" stroke-width="0.8"/>
<line x1="970" y1="518.6" x2="990.6" y2="518.6" stroke="#c4c4c4" stroke-width="0.5"/>
<line x1="970" y1="520.4" x2="970" y2="516.9" stroke="#888" stroke-width="0.8"/>
<line x1="990.6" y1="520.4" x2="990.6" y2="516.9" stroke="#888" stroke-width="0.8"/>
<line x1="992.6" y1="518.6" x2="1041.5" y2="518.6" stroke="#fff" stroke-width="4.3"/>
<line x1="992.6" y1="519.9" x2="1041.5" y2="519.9" stroke="#8c8c8c" stroke-width="0.8"/>
<line x1="992.6" y1="517.3" x2="1041.5" y2="517.3" stroke="#8c8c8c" stroke-width="0.8"/>
<line x1="992.6" y1="518.6" x2="1041.5" y2="518.6" stroke="#c4c4c4" stroke-width="0.5"/>
<line x1="992.6" y1="520.4" x2="992.6" y2="516.9" stroke="#888" stroke-width="0.8"/>
<line x1="1041.5" y1="520.4" x2="1041.5" y2="516.9" stroke="#888" stroke-width="0.8"/>
<line x1="1043.5" y1="518.6" x2="1065" y2="518.6" stroke="#fff" stroke-width="4.3"/>
<line x1="1043.5" y1="519.9" x2="1065" y2="519.9" stroke="#8c8c8c" stroke-width="0.8"/>
<line x1="1043.5" y1="517.3" x2="1065" y2="517.3" stroke="#8c8c8c" stroke-width="0.8"/>
<line x1="1043.5" y1="518.6" x2="1065" y2="518.6" stroke="#c4c4c4" stroke-width="0.5"/>
<line x1="1043.5" y1="520.4" x2="1043.5" y2="516.9" stroke="#888" stroke-width="0.8"/>
<line x1="1065" y1="520.4" x2="1065" y2="516.9" stroke="#888" stroke-width="0.8"/>
<polyline points="608.2,308.8 608.2,258.8 643,258.8 679.5,227 705,209.5 727.5,155 757.5,117.5 795,88.8 825,71.2 865,57.5 920,50 1100,30 1135,40 1157.5,53.8 1175,75 1210,127.5 1217.5,162.5" fill="none" stroke="#8a8a8a" stroke-width="0.8"/>
<polyline points="643,260.8 680.5,229" fill="none" stroke="#8a8a8a" stroke-width="0.7"/>
<polyline points="1217.5,162.5 1177.5,200 1143.8,221.2 1133.8,232.5 1126.2,246.2 1126.2,322" fill="none" stroke="#888" stroke-width="0.7"/>
<polyline points="1218.9,164 1178.7,201.6 1145,222.8 1135.4,233.7 1128.2,246.7 1128.2,322" fill="none" stroke="#888" stroke-width="0.7"/>
<polygon points="884,219.5 903.8,211.7 925,203.2 952,198.3 1077.9,198.3 1100.5,190.5 1116.1,180.5 1126,169.2 1133.1,155 1135.3,146.5 1134.6,136.6 1130.3,123.9 1121.8,109 1110.5,98.3 1099.1,91.3 1082.1,87.7 1058,83.5 1032.5,81.1 1004.2,80.2 967.5,83 939.2,87.7 908,95.5 876.8,104 868.3,110.4 862.7,120.3 855.6,133.8 852,149.4 851,167.8 855.6,177.7 866.9,197.6 875.4,211.7" fill="#e8e8e8" stroke="#8c8c8c" stroke-width="0.8"/>
<polygon points="884.5,216.9 902.8,209.3 924.3,200.7 951.8,195.7 1077.5,195.7 1099.4,188.2 1114.4,178.5 1123.8,167.8 1130.7,154.1 1132.7,146.3 1132.1,137.1 1127.9,125 1119.8,110.6 1108.9,100.4 1098.1,93.7 1081.6,90.3 1057.7,86.1 1032.3,83.7 1004.3,82.8 967.8,85.6 939.7,90.2 908.7,98 877.9,106.3 870.3,112.1 865,121.5 858,134.7 854.6,149.8 853.6,167.3 857.9,176.5 869.1,196.3 877.4,210" fill="none" stroke="#8c8c8c" stroke-width="0.7"/>
<polyline points="810,168.8 810,180 864.5,234.5 950.5,206.3 1104.8,206.3 1196.2,143.8" fill="none" stroke="#888" stroke-width="0.7"/>
<polyline points="807.8,168.8 808,180.8 864,236.6 950.8,208.5 1105.5,208.4 1197.5,145.6" fill="none" stroke="#888" stroke-width="0.7"/>
<polyline points="810,168.8 812,168.8" fill="none" stroke="#8a8a8a" stroke-width="0.7"/>
<polygon points="811.2,136.2 816.2,119.5 818,120 813,136.8" fill="none" stroke="#8a8a8a" stroke-width="0.7"/>
<g transform="rotate(-30 1183 122.5)"><rect x="1177" y="116" width="12" height="13" fill="none" stroke="#777" stroke-width="0.7"/><line x1="1183" y1="116" x2="1183" y2="129" stroke="#777" stroke-width="0.6"/><line x1="1177" y1="120.3" x2="1189" y2="120.3" stroke="#777" stroke-width="0.6"/><line x1="1177" y1="124.6" x2="1189" y2="124.6" stroke="#777" stroke-width="0.6"/></g>
<rect x="755" y="217.5" width="36.8" height="87.5" fill="none" stroke="#8a8a8a" stroke-width="0.7"/>
<rect x="758" y="219.5" width="31.2" height="83" fill="none" stroke="#666" stroke-width="0.7"/>
<polyline points="773.8,219.5 773.8,302.5" fill="none" stroke="#666" stroke-width="0.7"/>
<polyline points="758,227.5 789.2,227.5" fill="none" stroke="#777" stroke-width="0.6"/>
<polyline points="758,237 789.2,237" fill="none" stroke="#777" stroke-width="0.6"/>
<polyline points="758,246.2 789.2,246.2" fill="none" stroke="#777" stroke-width="0.6"/>
<polyline points="758,265 789.2,265" fill="none" stroke="#777" stroke-width="0.6"/>
<polyline points="758,274.2 789.2,274.2" fill="none" stroke="#777" stroke-width="0.6"/>
<polyline points="758,283.8 789.2,283.8" fill="none" stroke="#777" stroke-width="0.6"/>
<polyline points="758,293 789.2,293" fill="none" stroke="#777" stroke-width="0.6"/>
<polyline points="758,255.5 789.2,255.5" fill="none" stroke="#444" stroke-width="1"/>
<text x="0" y="0" transform="translate(990 142) scale(0.89 1)" font-size="6.9" text-anchor="middle" dominant-baseline="central" fill="#262626" font-weight="normal">SWIMMING POOL</text>
<text x="0" y="0" transform="translate(924.2 263.2) scale(0.89 1)" font-size="6.9" text-anchor="middle" dominant-baseline="central" fill="#262626" font-weight="normal">PATIO</text>
<polyline points="344.8,658 755.3,658 755.3,609.7 762,609.7" fill="none" stroke="#000" stroke-width="4" stroke-linecap="square" stroke-linejoin="miter"/>
<polyline points="344.8,658 344.8,837 619,837 619,658" fill="none" stroke="#000" stroke-width="4" stroke-linecap="square" stroke-linejoin="miter"/>
<line x1="354.5" y1="837" x2="429.2" y2="837" stroke="#fff" stroke-width="4.8"/>
<line x1="354.5" y1="838.5" x2="429.2" y2="838.5" stroke="#8c8c8c" stroke-width="0.8"/>
<line x1="354.5" y1="835.5" x2="429.2" y2="835.5" stroke="#8c8c8c" stroke-width="0.8"/>
<line x1="354.5" y1="837" x2="429.2" y2="837" stroke="#c4c4c4" stroke-width="0.5"/>
<line x1="354.5" y1="839" x2="354.5" y2="835" stroke="#888" stroke-width="0.8"/>
<line x1="429.2" y1="839" x2="429.2" y2="835" stroke="#888" stroke-width="0.8"/>
<line x1="444.4" y1="837" x2="516" y2="837" stroke="#fff" stroke-width="4.8"/>
<line x1="444.4" y1="838.5" x2="516" y2="838.5" stroke="#8c8c8c" stroke-width="0.8"/>
<line x1="444.4" y1="835.5" x2="516" y2="835.5" stroke="#8c8c8c" stroke-width="0.8"/>
<line x1="444.4" y1="837" x2="516" y2="837" stroke="#c4c4c4" stroke-width="0.5"/>
<line x1="444.4" y1="839" x2="444.4" y2="835" stroke="#888" stroke-width="0.8"/>
<line x1="516" y1="839" x2="516" y2="835" stroke="#888" stroke-width="0.8"/>
<line x1="537.7" y1="837" x2="611.3" y2="837" stroke="#fff" stroke-width="4.8"/>
<line x1="537.7" y1="838.5" x2="611.3" y2="838.5" stroke="#8c8c8c" stroke-width="0.8"/>
<line x1="537.7" y1="835.5" x2="611.3" y2="835.5" stroke="#8c8c8c" stroke-width="0.8"/>
<line x1="537.7" y1="837" x2="611.3" y2="837" stroke="#c4c4c4" stroke-width="0.5"/>
<line x1="537.7" y1="839" x2="537.7" y2="835" stroke="#888" stroke-width="0.8"/>
<line x1="611.3" y1="839" x2="611.3" y2="835" stroke="#888" stroke-width="0.8"/>
<line x1="619" y1="750.2" x2="619" y2="770.5" stroke="#fff" stroke-width="5"/>
<rect x="617.2" y="750.2" width="3.6" height="20.3" fill="#fff" stroke="#999" stroke-width="0.6"/>
<path d="M621,750.2 L641.5,750.2 A20.5,20.5 0 0 1 621,770.5" fill="none" stroke="#8a8a8a" stroke-width="0.8"/>
<rect x="481.3" y="670.4" width="15.7" height="16.1" fill="none" stroke="#8a8a8a" stroke-width="0.7"/>
<rect x="575" y="660" width="25.8" height="26.5" fill="none" stroke="#8a8a8a" stroke-width="0.7"/>
<polyline points="575,685 600.8,685" fill="none" stroke="#8a8a8a" stroke-width="0.6"/>
<text x="0" y="0" transform="translate(481.7 748.6) scale(0.89 1)" font-size="6.8" text-anchor="middle" dominant-baseline="central" fill="#262626" font-weight="normal">GARAGE</text>
<text x="0" y="0" transform="translate(342.8 863.4) scale(0.89 1)" font-size="6.8" text-anchor="start" dominant-baseline="central" fill="#262626" font-weight="normal">FLOOR 1</text>
<polyline points="621,661.7 755.3,661.7" fill="none" stroke="#8a8a8a" stroke-width="0.7"/>
<polyline points="621,839 661,839" fill="none" stroke="#8a8a8a" stroke-width="0.7"/>
<text x="0" y="0" transform="translate(702.2 713.8) scale(0.89 1)" font-size="6.8" text-anchor="middle" dominant-baseline="central" fill="#262626" font-weight="normal">COVERED PATIO</text>
<polyline points="757.3,620.3 788.3,620.3" fill="none" stroke="#888" stroke-width="0.7"/>
<polyline points="757.3,629.7 788.3,629.7" fill="none" stroke="#888" stroke-width="0.7"/>
<polyline points="757.3,639 788.3,639" fill="none" stroke="#888" stroke-width="0.7"/>
<polyline points="757.3,648.3 788.3,648.3" fill="none" stroke="#888" stroke-width="0.7"/>
<polyline points="757.3,657.7 788.3,657.7" fill="none" stroke="#888" stroke-width="0.7"/>
<polyline points="772.7,611.5 772.7,659" fill="none" stroke="#888" stroke-width="0.7"/>
<polyline points="762,609.7 784.7,609.7" fill="none" stroke="#999" stroke-width="0.7"/>
<polyline points="784.7,609.7 966,609.7" fill="none" stroke="#000" stroke-width="4" stroke-linecap="square" stroke-linejoin="miter"/>
<polyline points="790.3,609.7 790.3,906.4" fill="none" stroke="#000" stroke-width="3.6" stroke-linecap="square" stroke-linejoin="miter"/>
<line x1="790.3" y1="633.7" x2="790.3" y2="671" stroke="#fff" stroke-width="4.4"/>
<line x1="788.9" y1="633.7" x2="788.9" y2="671" stroke="#8c8c8c" stroke-width="0.8"/>
<line x1="791.6" y1="633.7" x2="791.6" y2="671" stroke="#8c8c8c" stroke-width="0.8"/>
<line x1="790.3" y1="633.7" x2="790.3" y2="671" stroke="#c4c4c4" stroke-width="0.5"/>
<line x1="788.5" y1="633.7" x2="792.1" y2="633.7" stroke="#888" stroke-width="0.8"/>
<line x1="788.5" y1="671" x2="792.1" y2="671" stroke="#888" stroke-width="0.8"/>
<line x1="790.3" y1="679" x2="790.3" y2="700.3" stroke="#fff" stroke-width="4.6"/>
<rect x="788.8" y="679" width="3" height="21.3" fill="#fff" stroke="#999" stroke-width="0.6"/>
<path d="M792.3,700.3 L813.3,700.3 A21,21 0 0 0 792.3,679" fill="none" stroke="#8a8a8a" stroke-width="0.8"/>
<polygon points="788.3,711.7 843.7,711.7 843.7,696.3 872.7,696.3 872.7,723.2 788.3,723.2" fill="#000" stroke="none" stroke-width="1"/>
<rect x="786" y="718.3" width="4" height="6" fill="#000" stroke="none" stroke-width="0.8"/>
<polyline points="847.3,670.3 871.6,670.3 871.6,723" fill="none" stroke="#000" stroke-width="2.6" stroke-linecap="square" stroke-linejoin="miter"/>
<polyline points="871.6,722 965.4,722" fill="none" stroke="#000" stroke-width="2.2" stroke-linecap="square" stroke-linejoin="miter"/>
<rect x="849.3" y="650.3" width="46" height="18.7" fill="none" stroke="#8a8a8a" stroke-width="0.6"/>
<rect x="852" y="651.7" width="13.3" height="12" fill="none" stroke="#8a8a8a" stroke-width="0.6"/>
<polyline points="865.3,661 873,661 873,669" fill="none" stroke="#8a8a8a" stroke-width="0.5" stroke-dasharray="1,1"/>
<polyline points="880.7,671 880.7,721" fill="none" stroke="#8a8a8a" stroke-width="0.5" stroke-dasharray="1.2,1.2"/>
<text x="0" y="0" transform="translate(880 634.3) scale(0.89 1)" font-size="6.8" text-anchor="middle" dominant-baseline="central" fill="#262626" font-weight="normal">LAUNDRY</text>
<polyline points="965.9,580.3 965.9,671" fill="none" stroke="#000" stroke-width="4.4" stroke-linecap="square" stroke-linejoin="miter"/>
<polyline points="965.4,671 965.4,810" fill="none" stroke="#000" stroke-width="3" stroke-linecap="square" stroke-linejoin="miter"/>
<polyline points="965.4,851.3 965.4,876" fill="none" stroke="#000" stroke-width="3" stroke-linecap="square" stroke-linejoin="miter"/>
<line x1="965.4" y1="613" x2="965.4" y2="634.3" stroke="#fff" stroke-width="5"/>
<rect x="964" y="613" width="2.8" height="21.3" fill="#fff" stroke="#999" stroke-width="0.6"/>
<path d="M964,613 L943,613 A21,21 0 0 0 964,634.3" fill="none" stroke="#8a8a8a" stroke-width="0.8"/>
<line x1="965.4" y1="674.3" x2="965.4" y2="695.7" stroke="#fff" stroke-width="5"/>
<rect x="964" y="674.3" width="2.8" height="21.4" fill="#fff" stroke="#999" stroke-width="0.6"/>
<path d="M964,674.3 L943,674.3 A21,21 0 0 0 964,695.7" fill="none" stroke="#8a8a8a" stroke-width="0.8"/>
<line x1="965.4" y1="786.7" x2="965.4" y2="807.3" stroke="#fff" stroke-width="5"/>
<rect x="964" y="786.7" width="2.8" height="20.6" fill="#fff" stroke="#999" stroke-width="0.6"/>
<path d="M964,786.7 L943,786.7 A21,21 0 0 0 964,807.3" fill="none" stroke="#8a8a8a" stroke-width="0.8"/>
<line x1="965.9" y1="636.3" x2="965.9" y2="664.3" stroke="#fff" stroke-width="4.8"/>
<line x1="964.4" y1="636.3" x2="964.4" y2="664.3" stroke="#8c8c8c" stroke-width="0.8"/>
<line x1="967.4" y1="636.3" x2="967.4" y2="664.3" stroke="#8c8c8c" stroke-width="0.8"/>
<line x1="965.9" y1="636.3" x2="965.9" y2="664.3" stroke="#c4c4c4" stroke-width="0.5"/>
<line x1="963.9" y1="636.3" x2="967.9" y2="636.3" stroke="#888" stroke-width="0.8"/>
<line x1="963.9" y1="664.3" x2="967.9" y2="664.3" stroke="#888" stroke-width="0.8"/>
<polyline points="790.3,865.1 965.4,865.1" fill="none" stroke="#000" stroke-width="3.4" stroke-linecap="square" stroke-linejoin="miter"/>
<line x1="817.7" y1="865.1" x2="844" y2="865.1" stroke="#fff" stroke-width="4.2"/>
<line x1="817.7" y1="866.4" x2="844" y2="866.4" stroke="#8c8c8c" stroke-width="0.8"/>
<line x1="817.7" y1="863.9" x2="844" y2="863.9" stroke="#8c8c8c" stroke-width="0.8"/>
<line x1="817.7" y1="865.1" x2="844" y2="865.1" stroke="#c4c4c4" stroke-width="0.5"/>
<line x1="817.7" y1="866.8" x2="817.7" y2="863.4" stroke="#888" stroke-width="0.8"/>
<line x1="844" y1="866.8" x2="844" y2="863.4" stroke="#888" stroke-width="0.8"/>
<line x1="844" y1="865.1" x2="858" y2="865.1" stroke="#fff" stroke-width="4.2"/>
<line x1="844" y1="866.4" x2="858" y2="866.4" stroke="#8c8c8c" stroke-width="0.8"/>
<line x1="844" y1="863.9" x2="858" y2="863.9" stroke="#8c8c8c" stroke-width="0.8"/>
<line x1="844" y1="865.1" x2="858" y2="865.1" stroke="#c4c4c4" stroke-width="0.5"/>
<line x1="844" y1="866.8" x2="844" y2="863.4" stroke="#888" stroke-width="0.8"/>
<line x1="858" y1="866.8" x2="858" y2="863.4" stroke="#888" stroke-width="0.8"/>
<line x1="858" y1="865.1" x2="871.3" y2="865.1" stroke="#fff" stroke-width="4.2"/>
<line x1="858" y1="866.4" x2="871.3" y2="866.4" stroke="#8c8c8c" stroke-width="0.8"/>
<line x1="858" y1="863.9" x2="871.3" y2="863.9" stroke="#8c8c8c" stroke-width="0.8"/>
<line x1="858" y1="865.1" x2="871.3" y2="865.1" stroke="#c4c4c4" stroke-width="0.5"/>
<line x1="858" y1="866.8" x2="858" y2="863.4" stroke="#888" stroke-width="0.8"/>
<line x1="871.3" y1="866.8" x2="871.3" y2="863.4" stroke="#888" stroke-width="0.8"/>
<line x1="878.2" y1="865.1" x2="891.5" y2="865.1" stroke="#fff" stroke-width="4.2"/>
<line x1="878.2" y1="866.4" x2="891.5" y2="866.4" stroke="#8c8c8c" stroke-width="0.8"/>
<line x1="878.2" y1="863.9" x2="891.5" y2="863.9" stroke="#8c8c8c" stroke-width="0.8"/>
<line x1="878.2" y1="865.1" x2="891.5" y2="865.1" stroke="#c4c4c4" stroke-width="0.5"/>
<line x1="878.2" y1="866.8" x2="878.2" y2="863.4" stroke="#888" stroke-width="0.8"/>
<line x1="891.5" y1="866.8" x2="891.5" y2="863.4" stroke="#888" stroke-width="0.8"/>
<line x1="891.5" y1="865.1" x2="918" y2="865.1" stroke="#fff" stroke-width="4.2"/>
<line x1="891.5" y1="866.4" x2="918" y2="866.4" stroke="#8c8c8c" stroke-width="0.8"/>
<line x1="891.5" y1="863.9" x2="918" y2="863.9" stroke="#8c8c8c" stroke-width="0.8"/>
<line x1="891.5" y1="865.1" x2="918" y2="865.1" stroke="#c4c4c4" stroke-width="0.5"/>
<line x1="891.5" y1="866.8" x2="891.5" y2="863.4" stroke="#888" stroke-width="0.8"/>
<line x1="918" y1="866.8" x2="918" y2="863.4" stroke="#888" stroke-width="0.8"/>
<line x1="918" y1="865.1" x2="931.9" y2="865.1" stroke="#fff" stroke-width="4.2"/>
<line x1="918" y1="866.4" x2="931.9" y2="866.4" stroke="#8c8c8c" stroke-width="0.8"/>
<line x1="918" y1="863.9" x2="931.9" y2="863.9" stroke="#8c8c8c" stroke-width="0.8"/>
<line x1="918" y1="865.1" x2="931.9" y2="865.1" stroke="#c4c4c4" stroke-width="0.5"/>
<line x1="918" y1="866.8" x2="918" y2="863.4" stroke="#888" stroke-width="0.8"/>
<line x1="931.9" y1="866.8" x2="931.9" y2="863.4" stroke="#888" stroke-width="0.8"/>
<text x="0" y="0" transform="translate(878.2 795) scale(0.89 1)" font-size="6.8" text-anchor="middle" dominant-baseline="central" fill="#262626" font-weight="normal">FAMILY ROOM</text>
<polyline points="662.3,768.3 790.3,768.3" fill="none" stroke="#000" stroke-width="3.8" stroke-linecap="square" stroke-linejoin="miter"/>
<polyline points="662.3,768.3 662.3,906.4 790.3,906.4" fill="none" stroke="#000" stroke-width="3.8" stroke-linecap="square" stroke-linejoin="miter"/>
<line x1="674.6" y1="768.3" x2="695.8" y2="768.3" stroke="#fff" stroke-width="4.8"/>
<rect x="674.6" y="766.8" width="21.2" height="3" fill="#fff" stroke="#999" stroke-width="0.6"/>
<path d="M674.6,769.8 L674.6,790.5 A20.7,20.7 0 0 0 695.8,769.8" fill="none" stroke="#8a8a8a" stroke-width="0.8"/>
<line x1="662.3" y1="841.7" x2="662.3" y2="891.2" stroke="#fff" stroke-width="4.6"/>
<line x1="660.8" y1="841.7" x2="660.8" y2="891.2" stroke="#8c8c8c" stroke-width="0.8"/>
<line x1="663.8" y1="841.7" x2="663.8" y2="891.2" stroke="#8c8c8c" stroke-width="0.8"/>
<line x1="662.3" y1="841.7" x2="662.3" y2="891.2" stroke="#c4c4c4" stroke-width="0.5"/>
<line x1="660.4" y1="841.7" x2="664.2" y2="841.7" stroke="#888" stroke-width="0.8"/>
<line x1="660.4" y1="891.2" x2="664.2" y2="891.2" stroke="#888" stroke-width="0.8"/>
<line x1="674.6" y1="906.4" x2="709" y2="906.4" stroke="#fff" stroke-width="4.6"/>
<line x1="674.6" y1="907.9" x2="709" y2="907.9" stroke="#8c8c8c" stroke-width="0.8"/>
<line x1="674.6" y1="904.9" x2="709" y2="904.9" stroke="#8c8c8c" stroke-width="0.8"/>
<line x1="674.6" y1="906.4" x2="709" y2="906.4" stroke="#c4c4c4" stroke-width="0.5"/>
<line x1="674.6" y1="908.3" x2="674.6" y2="904.5" stroke="#888" stroke-width="0.8"/>
<line x1="709" y1="908.3" x2="709" y2="904.5" stroke="#888" stroke-width="0.8"/>
<line x1="717.3" y1="906.4" x2="753" y2="906.4" stroke="#fff" stroke-width="4.6"/>
<line x1="717.3" y1="907.9" x2="753" y2="907.9" stroke="#8c8c8c" stroke-width="0.8"/>
<line x1="717.3" y1="904.9" x2="753" y2="904.9" stroke="#8c8c8c" stroke-width="0.8"/>
<line x1="717.3" y1="906.4" x2="753" y2="906.4" stroke="#c4c4c4" stroke-width="0.5"/>
<line x1="717.3" y1="908.3" x2="717.3" y2="904.5" stroke="#888" stroke-width="0.8"/>
<line x1="753" y1="908.3" x2="753" y2="904.5" stroke="#888" stroke-width="0.8"/>
<text x="0" y="0" transform="translate(726.9 839) scale(0.89 1)" font-size="6.8" text-anchor="middle" dominant-baseline="central" fill="#262626" font-weight="normal">GARAGE</text>
<polyline points="964.7,582.3 1125.5,582.3" fill="none" stroke="#000" stroke-width="4" stroke-linecap="square" stroke-linejoin="miter"/>
<line x1="1011.8" y1="582.3" x2="1027" y2="582.3" stroke="#fff" stroke-width="4.8"/>
<line x1="1011.8" y1="583.8" x2="1027" y2="583.8" stroke="#8c8c8c" stroke-width="0.8"/>
<line x1="1011.8" y1="580.8" x2="1027" y2="580.8" stroke="#8c8c8c" stroke-width="0.8"/>
<line x1="1011.8" y1="582.3" x2="1027" y2="582.3" stroke="#c4c4c4" stroke-width="0.5"/>
<line x1="1011.8" y1="584.3" x2="1011.8" y2="580.3" stroke="#888" stroke-width="0.8"/>
<line x1="1027" y1="584.3" x2="1027" y2="580.3" stroke="#888" stroke-width="0.8"/>
<polyline points="1125.5,584 1123.4,610.1 1190.5,610.1" fill="none" stroke="#888" stroke-width="0.7"/>
<polyline points="1123.5,583.8 1121.9,611.5 1190.5,612.1" fill="none" stroke="#888" stroke-width="0.7"/>
<polyline points="1190.5,610.1 1190.5,665.3" fill="none" stroke="#c4c4c4" stroke-width="1.4"/>
<polyline points="968,585.5 1123.5,585.5" fill="none" stroke="#8a8a8a" stroke-width="0.6"/>
<text x="0" y="0" transform="translate(1069.2 631.1) scale(0.89 1)" font-size="6.8" text-anchor="middle" dominant-baseline="central" fill="#262626" font-weight="normal">COVERED PATIO</text>
<polyline points="965.4,670 1156.4,670 1171.2,658.3 1334,730.2 1320.5,753.5" fill="none" stroke="#000" stroke-width="3.8" stroke-linecap="square" stroke-linejoin="miter"/>
<line x1="981.4" y1="670" x2="1009" y2="670" stroke="#fff" stroke-width="4.4"/>
<line x1="981.4" y1="671.4" x2="1009" y2="671.4" stroke="#8c8c8c" stroke-width="0.8"/>
<line x1="981.4" y1="668.6" x2="1009" y2="668.6" stroke="#8c8c8c" stroke-width="0.8"/>
<line x1="981.4" y1="671.8" x2="981.4" y2="668.2" stroke="#888" stroke-width="0.8"/>
<line x1="1009" y1="671.8" x2="1009" y2="668.2" stroke="#888" stroke-width="0.8"/>
<line x1="1009" y1="670" x2="1037.8" y2="670" stroke="#fff" stroke-width="4.4"/>
<line x1="1009" y1="671.4" x2="1037.8" y2="671.4" stroke="#8c8c8c" stroke-width="0.8"/>
<line x1="1009" y1="668.6" x2="1037.8" y2="668.6" stroke="#8c8c8c" stroke-width="0.8"/>
<line x1="1009" y1="671.8" x2="1009" y2="668.2" stroke="#888" stroke-width="0.8"/>
<line x1="1037.8" y1="671.8" x2="1037.8" y2="668.2" stroke="#888" stroke-width="0.8"/>
<line x1="1043.2" y1="670" x2="1075" y2="670" stroke="#fff" stroke-width="4.4"/>
<line x1="1043.2" y1="671.4" x2="1075" y2="671.4" stroke="#8c8c8c" stroke-width="0.8"/>
<line x1="1043.2" y1="668.6" x2="1075" y2="668.6" stroke="#8c8c8c" stroke-width="0.8"/>
<line x1="1043.2" y1="671.8" x2="1043.2" y2="668.2" stroke="#888" stroke-width="0.8"/>
<line x1="1075" y1="671.8" x2="1075" y2="668.2" stroke="#888" stroke-width="0.8"/>
<line x1="1075" y1="670" x2="1107.1" y2="670" stroke="#fff" stroke-width="4.4"/>
<line x1="1075" y1="671.4" x2="1107.1" y2="671.4" stroke="#8c8c8c" stroke-width="0.8"/>
<line x1="1075" y1="668.6" x2="1107.1" y2="668.6" stroke="#8c8c8c" stroke-width="0.8"/>
<line x1="1075" y1="671.8" x2="1075" y2="668.2" stroke="#888" stroke-width="0.8"/>
<line x1="1107.1" y1="671.8" x2="1107.1" y2="668.2" stroke="#888" stroke-width="0.8"/>
<line x1="1127.3" y1="670" x2="1150.6" y2="670" stroke="#fff" stroke-width="4.8"/>
<rect x="1127.3" y="668.6" width="23.3" height="2.8" fill="#fff" stroke="#999" stroke-width="0.6"/>
<path d="M1127.3,671.6 L1127.3,695 A23.4,23.4 0 0 0 1150.6,671.6" fill="none" stroke="#8a8a8a" stroke-width="0.8"/>
<line x1="1208" y1="674.8" x2="1249.2" y2="693.3" stroke="#fff" stroke-width="4.6"/>
<line x1="1207.4" y1="676.1" x2="1248.7" y2="694.6" stroke="#8c8c8c" stroke-width="0.8"/>
<line x1="1208.6" y1="673.4" x2="1249.8" y2="692" stroke="#8c8c8c" stroke-width="0.8"/>
<line x1="1208" y1="674.8" x2="1249.2" y2="693.3" stroke="#c4c4c4" stroke-width="0.5"/>
<line x1="1207.2" y1="676.5" x2="1208.8" y2="673" stroke="#888" stroke-width="0.8"/>
<line x1="1248.5" y1="695" x2="1250" y2="691.6" stroke="#888" stroke-width="0.8"/>
<line x1="1249.2" y1="693.3" x2="1266.5" y2="701.1" stroke="#fff" stroke-width="4.6"/>
<line x1="1248.7" y1="694.6" x2="1265.9" y2="702.4" stroke="#8c8c8c" stroke-width="0.8"/>
<line x1="1249.8" y1="692" x2="1267.1" y2="699.8" stroke="#8c8c8c" stroke-width="0.8"/>
<line x1="1249.2" y1="693.3" x2="1266.5" y2="701.1" stroke="#c4c4c4" stroke-width="0.5"/>
<line x1="1248.5" y1="695" x2="1250" y2="691.6" stroke="#888" stroke-width="0.8"/>
<line x1="1265.7" y1="702.8" x2="1267.3" y2="699.3" stroke="#888" stroke-width="0.8"/>
<line x1="1266.5" y1="701.1" x2="1283" y2="708.5" stroke="#fff" stroke-width="4.6"/>
<line x1="1265.9" y1="702.4" x2="1282.4" y2="709.8" stroke="#8c8c8c" stroke-width="0.8"/>
<line x1="1267.1" y1="699.8" x2="1283.6" y2="707.2" stroke="#8c8c8c" stroke-width="0.8"/>
<line x1="1266.5" y1="701.1" x2="1283" y2="708.5" stroke="#c4c4c4" stroke-width="0.5"/>
<line x1="1265.7" y1="702.8" x2="1267.3" y2="699.3" stroke="#888" stroke-width="0.8"/>
<line x1="1282.2" y1="710.2" x2="1283.8" y2="706.8" stroke="#888" stroke-width="0.8"/>
<line x1="1331" y1="734" x2="1322.5" y2="751.5" stroke="#fff" stroke-width="5.2"/>
<polyline points="1331.8,735 1323.5,752" fill="none" stroke="#8a8a8a" stroke-width="0.6"/>
<polyline points="1328.6,733.5 1320.3,750.5" fill="none" stroke="#8a8a8a" stroke-width="0.6"/>
<path d="M1329,732.5 L1312,726.5 A18,18 0 0 0 1321,749.5" fill="none" stroke="#8a8a8a" stroke-width="0.7"/>
<text x="0" y="0" transform="translate(1042.5 723.6) scale(0.89 1)" font-size="6.8" text-anchor="middle" dominant-baseline="central" fill="#262626" font-weight="normal">DINING AREA</text>
<polyline points="964.3,782.2 1060.6,782.2" fill="none" stroke="#000" stroke-width="3" stroke-linecap="square" stroke-linejoin="miter"/>
<polyline points="1012.2,782.2 1012.2,811.9" fill="none" stroke="#000" stroke-width="2.6" stroke-linecap="square" stroke-linejoin="miter"/>
<polyline points="964.3,811.9 1033.7,811.9" fill="none" stroke="#000" stroke-width="3" stroke-linecap="square" stroke-linejoin="miter"/>
<polyline points="1033.7,812 1060.6,812 1060.6,783" fill="none" stroke="#8a8a8a" stroke-width="0.7"/>
<polyline points="1020.9,783.5 1020.9,811" fill="none" stroke="#999" stroke-width="0.6"/>
<polyline points="1027.3,783.5 1027.3,811" fill="none" stroke="#999" stroke-width="0.6"/>
<polyline points="1034.3,783.5 1034.3,811" fill="none" stroke="#999" stroke-width="0.6"/>
<polyline points="1040.7,783.5 1040.7,811" fill="none" stroke="#999" stroke-width="0.6"/>
<polyline points="1047.7,783.5 1047.7,811" fill="none" stroke="#999" stroke-width="0.6"/>
<polyline points="1054.2,783.5 1054.2,811" fill="none" stroke="#999" stroke-width="0.6"/>
<polyline points="1013.5,797.3 1060.6,797.3" fill="none" stroke="#999" stroke-width="0.6"/>
<rect x="967.2" y="765.2" width="87.5" height="15.8" fill="none" stroke="#8a8a8a" stroke-width="0.6"/>
<polyline points="979.5,772.8 1047.7,772.8" fill="none" stroke="#8a8a8a" stroke-width="0.6" stroke-dasharray="1.2,1.2"/>
<polyline points="979.5,772.8 979.5,781" fill="none" stroke="#8a8a8a" stroke-width="0.5" stroke-dasharray="1,1"/>
<polyline points="1047.7,772.8 1047.7,781" fill="none" stroke="#8a8a8a" stroke-width="0.5" stroke-dasharray="1,1"/>
<polyline points="1087.2,722.3 1126.7,722.3" fill="none" stroke="#000" stroke-width="2.6" stroke-linecap="square" stroke-linejoin="miter"/>
<polyline points="1126.4,703.1 1126.4,722.4" fill="none" stroke="#000" stroke-width="2.6" stroke-linecap="square" stroke-linejoin="miter"/>
<polyline points="1088.2,722.3 1088.2,760.3 1109.2,770.2" fill="none" stroke="#000" stroke-width="2.6" stroke-linecap="square" stroke-linejoin="miter"/>
<line x1="1088.2" y1="740.2" x2="1088.2" y2="757.7" stroke="#fff" stroke-width="3.6"/>
<rect x="1087.2" y="740.2" width="2" height="17.5" fill="#fff" stroke="#999" stroke-width="0.6"/>
<path d="M1086.8,740.2 L1070.9,740.2 A15.9,15.9 0 0 0 1086.8,757.7" fill="none" stroke="#8a8a8a" stroke-width="0.8"/>
<polyline points="1091,731.5 1116.5,731.5 1102,765" fill="none" stroke="#8a8a8a" stroke-width="0.7"/>
<polyline points="1127.3,722.9 1108.2,773.5" fill="none" stroke="#000" stroke-width="2.8" stroke-linecap="square" stroke-linejoin="miter"/>
<polyline points="1126.7,722.9 1179.8,745.1" fill="none" stroke="#000" stroke-width="2.8" stroke-linecap="square" stroke-linejoin="miter"/>
<polyline points="1188,729.4 1170.4,770.2 1147.1,760.3 1127.5,805.2" fill="none" stroke="#000" stroke-width="2.8" stroke-linecap="square" stroke-linejoin="miter"/>
<rect x="1124.5" y="722" width="5.5" height="9" fill="#000" stroke="none" stroke-width="0.8"/>
<polyline points="1111.3,770.5 1131.3,779.5" fill="none" stroke="#888" stroke-width="0.6"/>
<polyline points="1110.6,772.1 1130.6,781.1" fill="none" stroke="#888" stroke-width="0.6"/>
<polyline points="1131.3,779.5 1136.2,781.5" fill="none" stroke="#000" stroke-width="2.6" stroke-linecap="square" stroke-linejoin="miter"/>
<polyline points="1099.7,793.8 1153.5,817.7" fill="none" stroke="#000" stroke-width="2.8" stroke-linecap="square" stroke-linejoin="miter"/>
<polyline points="1099.4,793.8 1094.2,804.2" fill="none" stroke="#000" stroke-width="2.8" stroke-linecap="square" stroke-linejoin="miter"/>
<text x="0" y="0" transform="translate(1118.9 790.6) scale(0.89 1)" font-size="6.8" text-anchor="middle" dominant-baseline="central" fill="#262626" font-weight="normal">HALL</text>
<text x="0" y="0" transform="translate(1145 755.5) scale(0.89 1)" font-size="6.0" text-anchor="middle" dominant-baseline="central" fill="#262626" font-weight="normal">BATH</text>
<g transform="rotate(23.9 1133 742)"><rect x="1128" y="734" width="11" height="9" fill="none" stroke="#8a8a8a" stroke-width="0.6"/></g>
<g transform="rotate(23.9 1165 755)"><path d="M1171,750 L1163,750 Q1156,755 1163,760 L1171,760" fill="none" stroke="#8a8a8a" stroke-width="0.6"/></g>
<path d="M1123,753 A16,16 0 0 1 1134.5,776" fill="none" stroke="#8a8a8a" stroke-width="0.6"/>
<polyline points="1154.1,675.1 1298,738.5 1306,721.5" fill="none" stroke="#8a8a8a" stroke-width="0.7"/>
<polyline points="1168.2,668 1205,681.5" fill="none" stroke="#8a8a8a" stroke-width="0.6" stroke-dasharray="1.2,1.2"/>
<polyline points="1279,716.5 1300,727" fill="none" stroke="#8a8a8a" stroke-width="0.6" stroke-dasharray="1.2,1.2"/>
<polyline points="1127.8,704.8 1185.6,729.4" fill="none" stroke="#8a8a8a" stroke-width="0.7"/>
<polyline points="1128.5,715 1180,736" fill="none" stroke="#8a8a8a" stroke-width="0.6" stroke-dasharray="1.2,1.2"/>
<g transform="rotate(23.9 1243 704.5)"><rect x="1235" y="698" width="16" height="12" fill="none" stroke="#8a8a8a" stroke-width="0.7"/><line x1="1243" y1="698" x2="1243" y2="710" stroke="#8a8a8a" stroke-width="0.6"/></g>
<polygon points="1214.8,734.8 1246.7,746.8 1221.5,812 1189.2,799.2" fill="none" stroke="#8a8a8a" stroke-width="0.7"/>
<g transform="rotate(23.9 1227 772)"><rect x="1220" y="766" width="14" height="12" fill="none" stroke="#8a8a8a" stroke-width="0.6"/></g>
<text x="0" y="0" transform="translate(1189.2 760.2) rotate(-66) scale(0.89 1)" font-size="6.3" text-anchor="middle" dominant-baseline="central" fill="#262626" font-weight="normal">KITCHEN</text>
<polygon points="1280,752 1293.5,757.3 1263,826 1249.2,821.8" fill="none" stroke="#8a8a8a" stroke-width="0.7"/>
<polyline points="1287,755 1256,824" fill="none" stroke="#8a8a8a" stroke-width="0.5" stroke-dasharray="1.2,1.2"/>
<polyline points="1295,758 1263.5,830" fill="none" stroke="#000" stroke-width="2.8" stroke-linecap="square" stroke-linejoin="miter"/>
<polyline points="1320.8,753.5 1297.8,805" fill="none" stroke="#000" stroke-width="2.8" stroke-linecap="square" stroke-linejoin="miter"/>
<polyline points="1282.2,791 1299.5,797.8" fill="none" stroke="#000" stroke-width="2.8" stroke-linecap="square" stroke-linejoin="miter"/>
<polyline points="1295,760 1314.5,767" fill="none" stroke="#888" stroke-width="0.6"/>
<polyline points="1294.5,761.4 1314,768.4" fill="none" stroke="#888" stroke-width="0.6"/>
<polyline points="1297.8,805 1282.8,838.2" fill="none" stroke="#bbb" stroke-width="1.6"/>
<polyline points="1290,798 1272,836" fill="none" stroke="#8a8a8a" stroke-width="0.5" stroke-dasharray="1,1"/>
<path d="M1313.5,765.5 L1319,751 A20,20 0 0 0 1298,758.5" fill="none" stroke="#8a8a8a" stroke-width="0.6"/>
<text x="0" y="0" transform="translate(1300.5 779.5) scale(0.89 1)" font-size="6.0" text-anchor="middle" dominant-baseline="central" fill="#262626" font-weight="normal">PANTRY</text>
<polyline points="1153.5,817.7 1233.8,854.2" fill="none" stroke="#8a8a8a" stroke-width="0.7"/>
<polyline points="1154,816 1234,852.4" fill="none" stroke="#8a8a8a" stroke-width="0.5"/>
<polyline points="1233.8,854.2 1256.7,863.5 1269.2,835.4" fill="none" stroke="#000" stroke-width="3.2" stroke-linecap="square" stroke-linejoin="miter"/>
<polyline points="1094.4,803.7 1048,909" fill="none" stroke="#888" stroke-width="0.6"/>
<polyline points="1092.8,803 1046.4,908.3" fill="none" stroke="#888" stroke-width="0.6"/>
<polyline points="1073.5,840 1076.7,850" fill="none" stroke="#000" stroke-width="2.4" stroke-linecap="square" stroke-linejoin="miter"/>
<polyline points="1320.8,753.5 1507.7,836.6" fill="none" stroke="#000" stroke-width="4" stroke-linecap="square" stroke-linejoin="miter"/>
<line x1="1369.9" y1="775.6" x2="1394.4" y2="786.7" stroke="#fff" stroke-width="4.8"/>
<line x1="1369.3" y1="777" x2="1393.8" y2="788.1" stroke="#8c8c8c" stroke-width="0.8"/>
<line x1="1370.5" y1="774.2" x2="1395" y2="785.3" stroke="#8c8c8c" stroke-width="0.8"/>
<line x1="1369.9" y1="775.6" x2="1394.4" y2="786.7" stroke="#c4c4c4" stroke-width="0.5"/>
<line x1="1369.1" y1="777.4" x2="1370.7" y2="773.8" stroke="#888" stroke-width="0.8"/>
<line x1="1393.6" y1="788.5" x2="1395.2" y2="784.9" stroke="#888" stroke-width="0.8"/>
<line x1="1434" y1="804.1" x2="1481.5" y2="825.5" stroke="#fff" stroke-width="4.8"/>
<line x1="1433.4" y1="805.5" x2="1480.9" y2="826.9" stroke="#8c8c8c" stroke-width="0.8"/>
<line x1="1434.6" y1="802.7" x2="1482.1" y2="824.1" stroke="#8c8c8c" stroke-width="0.8"/>
<line x1="1434" y1="804.1" x2="1481.5" y2="825.5" stroke="#c4c4c4" stroke-width="0.5"/>
<line x1="1433.2" y1="805.9" x2="1434.8" y2="802.3" stroke="#888" stroke-width="0.8"/>
<line x1="1480.7" y1="827.3" x2="1482.3" y2="823.7" stroke="#888" stroke-width="0.8"/>
<polyline points="1507.7,836.6 1466.4,921" fill="none" stroke="#000" stroke-width="4" stroke-linecap="square" stroke-linejoin="miter"/>
<polyline points="1247.2,824 1468,921.3" fill="none" stroke="#000" stroke-width="2.8" stroke-linecap="square" stroke-linejoin="miter"/>
<line x1="1342.2" y1="866.7" x2="1362" y2="875.4" stroke="#fff" stroke-width="4"/>
<polyline points="1342.2,866.7 1362,875.4" fill="none" stroke="#888" stroke-width="0.5"/>
<polyline points="1341.7,867.9 1361.5,876.6" fill="none" stroke="#888" stroke-width="0.5"/>
<line x1="1371.5" y1="879.4" x2="1390.5" y2="888.1" stroke="#fff" stroke-width="4"/>
<polyline points="1371.5,879.4 1390.5,888.1" fill="none" stroke="#888" stroke-width="0.5"/>
<polyline points="1371,880.6 1390,889.3" fill="none" stroke="#888" stroke-width="0.5"/>
<path d="M1342.2,866.7 A20,20 0 0 1 1369,855 L1362,875.4" fill="none" stroke="#8a8a8a" stroke-width="0.6"/>
<path d="M1390.5,888.1 A20,20 0 0 0 1378,862 L1371.5,879.4" fill="none" stroke="#8a8a8a" stroke-width="0.6"/>
<polyline points="1406.3,794.6 1369.9,879.4" fill="none" stroke="#000" stroke-width="2.8" stroke-linecap="square" stroke-linejoin="miter"/>
<polyline points="1423.7,803.4 1419,814.4" fill="none" stroke="#000" stroke-width="2.8" stroke-linecap="square" stroke-linejoin="miter"/>
<polyline points="1419,814.4 1401.5,854" fill="none" stroke="#bbb" stroke-width="1.6"/>
<polyline points="1401.5,854 1398.4,862.7 1381,855.6" fill="none" stroke="#000" stroke-width="2.6" stroke-linecap="square" stroke-linejoin="miter"/>
<polyline points="1412,800 1388,856" fill="none" stroke="#8a8a8a" stroke-width="0.5"/>
<polyline points="1416,803 1392,858" fill="none" stroke="#8a8a8a" stroke-width="0.5" stroke-dasharray="1,1"/>
<polyline points="1306,760 1288,802" fill="none" stroke="#8a8a8a" stroke-width="0.5"/>
<text x="0" y="0" transform="translate(1345.9 816) scale(0.89 1)" font-size="6.8" text-anchor="middle" dominant-baseline="central" fill="#262626" font-weight="normal">BEDROOM</text>
<text x="0" y="0" transform="translate(1442 863.5) scale(0.89 1)" font-size="6.8" text-anchor="middle" dominant-baseline="central" fill="#262626" font-weight="normal">BEDROOM</text>
<polyline points="1293,881.1 1453.7,951.5" fill="none" stroke="#000" stroke-width="2.8" stroke-linecap="square" stroke-linejoin="miter"/>
<polyline points="1334.2,899.3 1354,908" fill="none" stroke="#888" stroke-width="0.5"/>
<polyline points="1333.7,900.5 1353.5,909.2" fill="none" stroke="#888" stroke-width="0.5"/>
<line x1="1335" y1="900" x2="1353" y2="907.5" stroke="#fff" stroke-width="0.1"/>
<line x1="1334.2" y1="899.3" x2="1354" y2="908" stroke="#fff" stroke-width="4"/>
<line x1="1334.2" y1="899.3" x2="1354" y2="908" stroke="#fff" stroke-width="3.6"/>
<line x1="1333.8" y1="900.2" x2="1353.6" y2="908.9" stroke="#8c8c8c" stroke-width="0.8"/>
<line x1="1334.6" y1="898.4" x2="1354.4" y2="907.1" stroke="#8c8c8c" stroke-width="0.8"/>
<line x1="1333.6" y1="900.6" x2="1334.8" y2="898" stroke="#888" stroke-width="0.8"/>
<line x1="1353.4" y1="909.3" x2="1354.6" y2="906.7" stroke="#888" stroke-width="0.8"/>
<line x1="1358.7" y1="910.4" x2="1379.3" y2="919.1" stroke="#fff" stroke-width="4"/>
<line x1="1358.7" y1="910.4" x2="1379.3" y2="919.1" stroke="#fff" stroke-width="3.6"/>
<line x1="1358.3" y1="911.3" x2="1378.9" y2="920" stroke="#8c8c8c" stroke-width="0.8"/>
<line x1="1359.1" y1="909.5" x2="1379.7" y2="918.2" stroke="#8c8c8c" stroke-width="0.8"/>
<line x1="1358.2" y1="911.7" x2="1359.2" y2="909.1" stroke="#888" stroke-width="0.8"/>
<line x1="1378.8" y1="920.4" x2="1379.8" y2="917.8" stroke="#888" stroke-width="0.8"/>
<line x1="1413.3" y1="934.1" x2="1443.4" y2="947.6" stroke="#fff" stroke-width="4"/>
<polyline points="1413.3,934.1 1443.4,947.6" fill="none" stroke="#bbb" stroke-width="1.6"/>
<path d="M1334.2,899.3 A22,22 0 0 0 1347,922 L1354,908" fill="none" stroke="#8a8a8a" stroke-width="0.6"/>
<path d="M1379.3,919.1 A21,21 0 0 1 1352,930 L1358.7,910.4" fill="none" stroke="#8a8a8a" stroke-width="0.6"/>
<text x="0" y="0" transform="translate(1316 875.5) scale(0.89 1)" font-size="6.8" text-anchor="middle" dominant-baseline="central" fill="#262626" font-weight="normal">HALL</text>
<polyline points="1392,889.8 1380.9,918.3" fill="none" stroke="#bbb" stroke-width="1.8"/>
<path d="M1391,892 A10,10 0 0 0 1381,897 A10,10 0 0 0 1386,903" fill="none" stroke="#8a8a8a" stroke-width="0.6"/>
<path d="M1385,907 A10,10 0 0 0 1372,911 L1381,916" fill="none" stroke="#8a8a8a" stroke-width="0.6"/>
<polyline points="1414.9,900.9 1403,928.6" fill="none" stroke="#000" stroke-width="2.8" stroke-linecap="square" stroke-linejoin="miter"/>
<polyline points="1417,910 1462,929" fill="none" stroke="#8a8a8a" stroke-width="0.5" stroke-dasharray="1,1"/>
<polyline points="1413,917 1460,937" fill="none" stroke="#8a8a8a" stroke-width="0.5"/>
<text x="0" y="0" transform="translate(1398 909.6) scale(0.89 1)" font-size="6.8" text-anchor="middle" dominant-baseline="central" fill="#262626" font-weight="normal">HALL</text>
<text x="0" y="0" transform="translate(1435.5 926) scale(0.89 1)" font-size="6.0" text-anchor="middle" dominant-baseline="central" fill="#262626" font-weight="normal">W.I.C.</text>
<polyline points="1466.4,920.7 1414.1,1045.7" fill="none" stroke="#000" stroke-width="4" stroke-linecap="square" stroke-linejoin="miter"/>
<line x1="1453.7" y1="955.5" x2="1438.7" y2="987.9" stroke="#fff" stroke-width="4.8"/>
<line x1="1452.3" y1="954.8" x2="1437.3" y2="987.2" stroke="#8c8c8c" stroke-width="0.8"/>
<line x1="1455.1" y1="956.2" x2="1440.1" y2="988.6" stroke="#8c8c8c" stroke-width="0.8"/>
<line x1="1453.7" y1="955.5" x2="1438.7" y2="987.9" stroke="#c4c4c4" stroke-width="0.5"/>
<line x1="1451.9" y1="954.7" x2="1455.5" y2="956.3" stroke="#888" stroke-width="0.8"/>
<line x1="1436.9" y1="987.1" x2="1440.5" y2="988.7" stroke="#888" stroke-width="0.8"/>
<polyline points="1414.1,1045.7 1388,1033 1276.4,983.2" fill="none" stroke="#000" stroke-width="4" stroke-linecap="square" stroke-linejoin="miter"/>
<line x1="1388" y1="1033" x2="1369" y2="1024.5" stroke="#fff" stroke-width="4.8"/>
<line x1="1388.6" y1="1031.6" x2="1369.6" y2="1023.1" stroke="#8c8c8c" stroke-width="0.8"/>
<line x1="1387.4" y1="1034.4" x2="1368.4" y2="1025.9" stroke="#8c8c8c" stroke-width="0.8"/>
<line x1="1388.8" y1="1031.2" x2="1387.2" y2="1034.8" stroke="#888" stroke-width="0.8"/>
<line x1="1369.8" y1="1022.7" x2="1368.2" y2="1026.3" stroke="#888" stroke-width="0.8"/>
<line x1="1369" y1="1024.5" x2="1348" y2="1015" stroke="#fff" stroke-width="4.8"/>
<line x1="1369.6" y1="1023.1" x2="1348.6" y2="1013.6" stroke="#8c8c8c" stroke-width="0.8"/>
<line x1="1368.4" y1="1025.9" x2="1347.4" y2="1016.4" stroke="#8c8c8c" stroke-width="0.8"/>
<line x1="1369.8" y1="1022.7" x2="1368.2" y2="1026.3" stroke="#888" stroke-width="0.8"/>
<line x1="1348.8" y1="1013.2" x2="1347.2" y2="1016.8" stroke="#888" stroke-width="0.8"/>
<line x1="1348" y1="1015" x2="1339.7" y2="1010.9" stroke="#fff" stroke-width="4.8"/>
<line x1="1348.7" y1="1013.6" x2="1340.4" y2="1009.5" stroke="#8c8c8c" stroke-width="0.8"/>
<line x1="1347.3" y1="1016.4" x2="1339" y2="1012.3" stroke="#8c8c8c" stroke-width="0.8"/>
<line x1="1348.9" y1="1013.2" x2="1347.1" y2="1016.8" stroke="#888" stroke-width="0.8"/>
<line x1="1340.6" y1="1009.1" x2="1338.8" y2="1012.7" stroke="#888" stroke-width="0.8"/>
<line x1="1297.8" y1="992.7" x2="1280.4" y2="984.8" stroke="#fff" stroke-width="4.8"/>
<line x1="1298.4" y1="991.3" x2="1281" y2="983.4" stroke="#8c8c8c" stroke-width="0.8"/>
<line x1="1297.2" y1="994.1" x2="1279.8" y2="986.2" stroke="#8c8c8c" stroke-width="0.8"/>
<line x1="1297.8" y1="992.7" x2="1280.4" y2="984.8" stroke="#c4c4c4" stroke-width="0.5"/>
<line x1="1298.6" y1="990.9" x2="1297" y2="994.5" stroke="#888" stroke-width="0.8"/>
<line x1="1281.2" y1="983" x2="1279.6" y2="986.6" stroke="#888" stroke-width="0.8"/>
<polyline points="1314.4,892.2 1263.7,1010.1" fill="none" stroke="#000" stroke-width="3.6" stroke-linecap="square" stroke-linejoin="miter"/>
<polyline points="1355.6,908.8 1315.2,998.2" fill="none" stroke="#000" stroke-width="2.8" stroke-linecap="square" stroke-linejoin="miter"/>
<polyline points="1286,962.5 1323,979.5" fill="none" stroke="#8a8a8a" stroke-width="0.7"/>
<polyline points="1288,960 1314,996" fill="none" stroke="#8a8a8a" stroke-width="0.6"/>
<g transform="rotate(23.9 1310 921)"><rect x="1304" y="916" width="11" height="10" fill="none" stroke="#8a8a8a" stroke-width="0.6"/></g>
<g transform="rotate(23.9 1298 955)"><path d="M1292,950 L1300,950 Q1308,955 1300,960 L1292,960 Z" fill="none" stroke="#8a8a8a" stroke-width="0.6"/></g>
<polyline points="1330,898 1304,950" fill="none" stroke="#8a8a8a" stroke-width="0.6"/>
<text x="0" y="0" transform="translate(1325.3 940.5) scale(0.89 1)" font-size="6.8" text-anchor="middle" dominant-baseline="central" fill="#262626" font-weight="normal">BATH</text>
<text x="0" y="0" transform="translate(1384.5 977) scale(0.89 1)" font-size="6.8" text-anchor="middle" dominant-baseline="central" fill="#262626" font-weight="normal">BEDROOM</text>
<polyline points="964,876 1264,1010" fill="none" stroke="#000" stroke-width="4" stroke-linecap="square" stroke-linejoin="miter"/>
<polyline points="965,852 965,876" fill="none" stroke="#000" stroke-width="3" stroke-linecap="square" stroke-linejoin="miter"/>
<line x1="965" y1="866" x2="965" y2="876" stroke="#fff" stroke-width="3.8"/>
<line x1="964" y1="866" x2="964" y2="876" stroke="#8c8c8c" stroke-width="0.8"/>
<line x1="966" y1="866" x2="966" y2="876" stroke="#8c8c8c" stroke-width="0.8"/>
<line x1="963.5" y1="866" x2="966.5" y2="866" stroke="#888" stroke-width="0.8"/>
<line x1="963.5" y1="876" x2="966.5" y2="876" stroke="#888" stroke-width="0.8"/>
<line x1="967" y1="877.3" x2="982" y2="884" stroke="#fff" stroke-width="4.8"/>
<line x1="966.4" y1="878.7" x2="981.4" y2="885.4" stroke="#8c8c8c" stroke-width="0.8"/>
<line x1="967.6" y1="875.9" x2="982.6" y2="882.6" stroke="#8c8c8c" stroke-width="0.8"/>
<line x1="966.2" y1="879.1" x2="967.8" y2="875.5" stroke="#888" stroke-width="0.8"/>
<line x1="981.2" y1="885.8" x2="982.8" y2="882.2" stroke="#888" stroke-width="0.8"/>
<line x1="983" y1="884.7" x2="1028" y2="904.6" stroke="#fff" stroke-width="4.8"/>
<line x1="982.4" y1="886.1" x2="1027.4" y2="906" stroke="#8c8c8c" stroke-width="0.8"/>
<line x1="983.6" y1="883.3" x2="1028.6" y2="903.2" stroke="#8c8c8c" stroke-width="0.8"/>
<line x1="982.2" y1="886.5" x2="983.8" y2="882.9" stroke="#888" stroke-width="0.8"/>
<line x1="1027.2" y1="906.4" x2="1028.8" y2="902.8" stroke="#888" stroke-width="0.8"/>
<line x1="1082" y1="928.8" x2="1096" y2="935" stroke="#fff" stroke-width="4.8"/>
<line x1="1081.4" y1="930.2" x2="1095.4" y2="936.4" stroke="#8c8c8c" stroke-width="0.8"/>
<line x1="1082.6" y1="927.4" x2="1096.6" y2="933.6" stroke="#8c8c8c" stroke-width="0.8"/>
<line x1="1081.2" y1="930.6" x2="1082.8" y2="927" stroke="#888" stroke-width="0.8"/>
<line x1="1095.2" y1="936.8" x2="1096.8" y2="933.2" stroke="#888" stroke-width="0.8"/>
<line x1="1096" y1="935" x2="1122" y2="946.6" stroke="#fff" stroke-width="4.8"/>
<line x1="1095.4" y1="936.4" x2="1121.4" y2="948" stroke="#8c8c8c" stroke-width="0.8"/>
<line x1="1096.6" y1="933.6" x2="1122.6" y2="945.2" stroke="#8c8c8c" stroke-width="0.8"/>
<line x1="1095.2" y1="936.8" x2="1096.8" y2="933.2" stroke="#888" stroke-width="0.8"/>
<line x1="1121.2" y1="948.4" x2="1122.8" y2="944.8" stroke="#888" stroke-width="0.8"/>
<line x1="1122" y1="946.6" x2="1136" y2="953" stroke="#fff" stroke-width="4.8"/>
<line x1="1121.4" y1="948" x2="1135.4" y2="954.4" stroke="#8c8c8c" stroke-width="0.8"/>
<line x1="1122.6" y1="945.2" x2="1136.6" y2="951.6" stroke="#8c8c8c" stroke-width="0.8"/>
<line x1="1121.2" y1="948.4" x2="1122.8" y2="944.8" stroke="#888" stroke-width="0.8"/>
<line x1="1135.2" y1="954.8" x2="1136.8" y2="951.2" stroke="#888" stroke-width="0.8"/>
<line x1="1140" y1="954.6" x2="1154" y2="961" stroke="#fff" stroke-width="4.8"/>
<line x1="1139.4" y1="956" x2="1153.4" y2="962.4" stroke="#8c8c8c" stroke-width="0.8"/>
<line x1="1140.6" y1="953.2" x2="1154.6" y2="959.6" stroke="#8c8c8c" stroke-width="0.8"/>
<line x1="1139.2" y1="956.4" x2="1140.8" y2="952.8" stroke="#888" stroke-width="0.8"/>
<line x1="1153.2" y1="962.8" x2="1154.8" y2="959.2" stroke="#888" stroke-width="0.8"/>
<line x1="1154" y1="961" x2="1180" y2="972.6" stroke="#fff" stroke-width="4.8"/>
<line x1="1153.4" y1="962.4" x2="1179.4" y2="974" stroke="#8c8c8c" stroke-width="0.8"/>
<line x1="1154.6" y1="959.6" x2="1180.6" y2="971.2" stroke="#8c8c8c" stroke-width="0.8"/>
<line x1="1153.2" y1="962.8" x2="1154.8" y2="959.2" stroke="#888" stroke-width="0.8"/>
<line x1="1179.2" y1="974.4" x2="1180.8" y2="970.8" stroke="#888" stroke-width="0.8"/>
<line x1="1180" y1="972.6" x2="1193" y2="978.4" stroke="#fff" stroke-width="4.8"/>
<line x1="1179.4" y1="974" x2="1192.4" y2="979.8" stroke="#8c8c8c" stroke-width="0.8"/>
<line x1="1180.6" y1="971.2" x2="1193.6" y2="977" stroke="#8c8c8c" stroke-width="0.8"/>
<line x1="1179.2" y1="974.4" x2="1180.8" y2="970.8" stroke="#888" stroke-width="0.8"/>
<line x1="1192.2" y1="980.2" x2="1193.8" y2="976.6" stroke="#888" stroke-width="0.8"/>
<path d="M985,880 L994,861 A21,21 0 0 1 1009,891" fill="none" stroke="#8a8a8a" stroke-width="0.7"/>
<path d="M1030,902 L1039,881 A21,21 0 0 0 1009,891" fill="none" stroke="#8a8a8a" stroke-width="0.7"/>
<text x="0" y="0" transform="translate(1015.4 852.6) scale(0.89 1)" font-size="6.8" text-anchor="middle" dominant-baseline="central" fill="#262626" font-weight="normal">FOYER</text>
<text x="0" y="0" transform="translate(1171 897.6) scale(0.89 1)" font-size="6.8" text-anchor="middle" dominant-baseline="central" fill="#262626" font-weight="normal">LIVING ROOM</text>
<polyline points="1197.3,977.3 1195.3,966.3 1268.7,950.3 1284.7,955.7" fill="none" stroke="#777" stroke-width="0.7"/>
<polyline points="1204.7,980.7 1280,963.7" fill="none" stroke="#333" stroke-width="0.9"/>
<polyline points="1213.3,984 1277.3,969.3" fill="none" stroke="#333" stroke-width="0.9"/>
<polyline points="1222,987.7 1275.3,976" fill="none" stroke="#333" stroke-width="0.9"/>
<polyline points="1230.7,991.3 1272,981.7" fill="none" stroke="#333" stroke-width="0.9"/>
<polyline points="1240,995 1268,989" fill="none" stroke="#333" stroke-width="0.9"/>
<polyline points="1248,998.7 1266,995.3" fill="none" stroke="#333" stroke-width="0.9"/>
<polyline points="1256,1002.7 1263.3,1001.3" fill="none" stroke="#333" stroke-width="0.9"/>
<polyline points="1232.7,974 1243.3,994" fill="none" stroke="#444" stroke-width="0.8"/>
<polyline points="1253.7,969.3 1264.7,988" fill="none" stroke="#444" stroke-width="0.8"/>
<text x="762.8" y="1136.5" font-size="47" font-weight="bold" fill="#000" stroke="#000" stroke-width="1.2" textLength="202" lengthAdjust="spacingAndGlyphs">All Floors</text>
<text x="657.3" y="1164.5" font-size="17" fill="#111" textLength="485.4" lengthAdjust="spacingAndGlyphs">SIZES AND DIMENSIONS ARE APPROXIMATE, ACTUAL MAY VARY.</text>
<text x="1560.2" y="1189.1" font-size="30.5" fill="#fff" stroke="#9a9a9a" stroke-width="1.1" textLength="156.8" lengthAdjust="spacingAndGlyphs">SAN DIEGO</text>
<rect x="1722.3" y="1161.4" width="2.7" height="32" fill="#fff" stroke="#9a9a9a" stroke-width="0.9"/>
<text x="1730.7" y="1189.1" font-size="30.5" fill="#fff" stroke="#9a9a9a" stroke-width="1.1" textLength="59.3" lengthAdjust="spacingAndGlyphs">MLS</text>
</svg></body></html>
